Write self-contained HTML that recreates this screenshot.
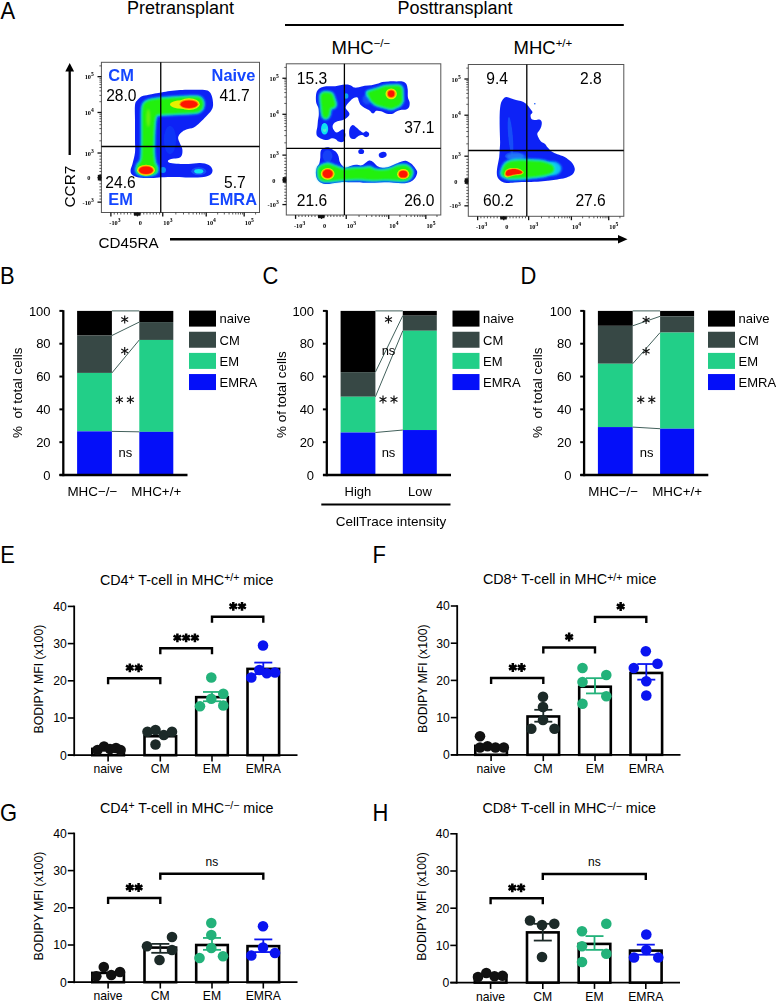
<!DOCTYPE html>
<html><head><meta charset="utf-8"><style>
html,body{margin:0;padding:0;background:#fff;}
svg{display:block;font-family:"Liberation Sans", sans-serif;}
</style></head><body>
<svg width="776" height="1002" viewBox="0 0 776 1002">
<rect width="776" height="1002" fill="#fff"/>
<text x="0" y="0" font-size="23.6" text-anchor="start" font-weight="normal" fill="#000" transform="translate(0.4 18.5) scale(0.93 1)">A</text>
<text x="0" y="0" font-size="23.6" text-anchor="start" font-weight="normal" fill="#000" transform="translate(-0.09999999999999998 284.4) scale(0.93 1)">B</text>
<text x="0" y="0" font-size="23.6" text-anchor="start" font-weight="normal" fill="#000" transform="translate(262.4 284.4) scale(0.93 1)">C</text>
<text x="0" y="0" font-size="23.6" text-anchor="start" font-weight="normal" fill="#000" transform="translate(520.4000000000001 284.4) scale(0.93 1)">D</text>
<text x="0" y="0" font-size="23.6" text-anchor="start" font-weight="normal" fill="#000" transform="translate(0.2 563) scale(0.93 1)">E</text>
<text x="0" y="0" font-size="23.6" text-anchor="start" font-weight="normal" fill="#000" transform="translate(372.4 563) scale(0.93 1)">F</text>
<text x="0" y="0" font-size="23.6" text-anchor="start" font-weight="normal" fill="#000" transform="translate(0.0 821) scale(0.93 1)">G</text>
<text x="0" y="0" font-size="23.6" text-anchor="start" font-weight="normal" fill="#000" transform="translate(372.4 820.5) scale(0.93 1)">H</text>
<text x="127" y="13.8" font-size="18" text-anchor="start" font-weight="normal" fill="#000" >Pretransplant</text>
<text x="397.5" y="13.8" font-size="18" text-anchor="start" font-weight="normal" fill="#000" >Posttransplant</text>
<line x1="285" y1="25" x2="623.8" y2="25" stroke="#000" stroke-width="2" />
<text x="331.5" y="53.5" font-size="18.5" text-anchor="start" font-weight="normal" fill="#000" >MHC<tspan font-size="11.5" dy="-6.1">−/−</tspan></text>
<text x="513.5" y="53.5" font-size="18.5" text-anchor="start" font-weight="normal" fill="#000" >MHC<tspan font-size="11.5" dy="-6.1">+/+</tspan></text>
<defs><filter id="fb" x="-5%" y="-5%" width="110%" height="110%"><feGaussianBlur stdDeviation="0.55"/></filter><filter id="fg" x="-20%" y="-20%" width="140%" height="140%"><feGaussianBlur stdDeviation="1.1"/></filter><filter id="fy" x="-20%" y="-20%" width="140%" height="140%"><feGaussianBlur stdDeviation="0.8"/></filter><filter id="fc" x="-30%" y="-30%" width="160%" height="160%"><feGaussianBlur stdDeviation="0.7"/></filter></defs><g filter="url(#fb)"><path d="M135.00,140.00C135.00,134.58 135.00,125.83 135.00,120.00C135.00,114.17 134.58,108.33 135.00,105.00C135.42,101.67 136.35,101.46 137.50,100.00C138.65,98.54 140.03,97.12 141.90,96.25C143.78,95.38 145.53,95.38 148.75,94.75C151.97,94.12 157.71,93.12 161.25,92.50C164.79,91.88 166.88,91.42 170.00,91.00C173.12,90.58 176.67,90.21 180.00,90.00C183.33,89.79 186.25,89.79 190.00,89.75C193.75,89.71 199.38,89.50 202.50,89.75C205.62,90.00 207.18,90.17 208.75,91.25C210.32,92.33 211.18,93.96 211.90,96.25C212.62,98.54 213.21,102.61 213.10,105.00C212.99,107.39 212.39,108.72 211.25,110.60C210.11,112.47 208.12,114.27 206.25,116.25C204.38,118.23 202.08,120.62 200.00,122.50C197.92,124.38 196.04,126.35 193.75,127.50C191.46,128.65 188.33,128.57 186.25,129.40C184.17,130.23 182.61,131.15 181.25,132.50C179.89,133.85 178.31,135.67 178.10,137.50C177.89,139.33 179.30,141.58 180.00,143.50C180.70,145.42 181.98,147.08 182.30,149.00C182.62,150.92 182.49,153.48 181.90,155.00C181.31,156.52 180.32,157.47 178.75,158.10C177.18,158.72 174.28,158.33 172.50,158.75C170.72,159.17 168.62,159.93 168.10,160.60C167.58,161.27 168.04,162.22 169.40,162.75C170.76,163.28 173.03,163.54 176.25,163.75C179.47,163.96 184.79,164.11 188.75,164.00C192.71,163.89 196.67,162.93 200.00,163.10C203.33,163.27 206.67,163.85 208.75,165.00C210.83,166.15 212.29,168.33 212.50,170.00C212.71,171.67 211.88,173.79 210.00,175.00C208.12,176.21 204.79,176.83 201.25,177.25C197.71,177.67 192.92,177.56 188.75,177.50C184.58,177.44 180.83,176.94 176.25,176.90C171.67,176.86 165.42,177.05 161.25,177.25C157.08,177.45 155.00,178.06 151.25,178.10C147.50,178.14 141.97,178.12 138.75,177.50C135.53,176.88 133.26,175.65 131.90,174.40C130.54,173.15 130.50,171.78 130.60,170.00C130.70,168.22 131.77,166.67 132.50,163.75C133.23,160.83 134.58,156.46 135.00,152.50C135.42,148.54 135.00,145.42 135.00,140.00Z" fill="#0a22f6" /><ellipse cx="170" cy="140" rx="6" ry="14" fill="#1a5cf8" opacity="0.35"/><ellipse cx="163" cy="170" rx="3" ry="3" fill="#10e0f0" opacity="0.6"/><ellipse cx="198.75" cy="171.25" rx="7.5" ry="4" fill="#1a5cf8" opacity="0.8"/><ellipse cx="198.75" cy="171.25" rx="4.5" ry="2.3" fill="#10e0f0" /><path d="M142.20,140.00C142.32,133.54 142.17,125.08 142.20,120.00C142.23,114.92 142.10,112.25 142.40,109.50C142.70,106.75 142.82,105.05 144.00,103.50C145.18,101.95 146.62,101.02 149.50,100.20C152.38,99.38 156.79,99.03 161.25,98.60C165.71,98.17 171.46,97.90 176.25,97.60C181.04,97.30 186.29,96.90 190.00,96.80C193.71,96.70 196.45,96.50 198.50,97.00C200.55,97.50 201.50,98.47 202.30,99.80C203.10,101.13 203.47,103.30 203.30,105.00C203.13,106.70 202.43,108.73 201.30,110.00C200.17,111.27 198.80,112.07 196.50,112.60C194.20,113.13 190.88,113.00 187.50,113.20C184.12,113.40 180.42,113.58 176.25,113.80C172.08,114.02 165.84,114.17 162.50,114.50C159.16,114.83 157.57,113.63 156.20,115.80C154.83,117.97 154.70,123.47 154.30,127.50C153.90,131.53 153.92,135.83 153.80,140.00C153.68,144.17 153.43,148.75 153.60,152.50C153.77,156.25 154.23,160.00 154.80,162.50C155.37,165.00 156.70,165.92 157.00,167.50C157.30,169.08 157.30,170.85 156.60,172.00C155.90,173.15 154.73,173.90 152.80,174.40C150.87,174.90 147.38,175.17 145.00,175.00C142.62,174.83 139.90,174.23 138.50,173.40C137.10,172.57 136.72,171.40 136.60,170.00C136.48,168.60 136.98,166.88 137.80,165.00C138.62,163.12 140.77,162.92 141.50,158.75C142.23,154.58 142.08,146.46 142.20,140.00Z" fill="#10e0f0" stroke="#10e0f0" stroke-width="3.00" stroke-linejoin="round" filter="url(#fy)"/><path d="M142.20,140.00C142.32,133.54 142.17,125.08 142.20,120.00C142.23,114.92 142.10,112.25 142.40,109.50C142.70,106.75 142.82,105.05 144.00,103.50C145.18,101.95 146.62,101.02 149.50,100.20C152.38,99.38 156.79,99.03 161.25,98.60C165.71,98.17 171.46,97.90 176.25,97.60C181.04,97.30 186.29,96.90 190.00,96.80C193.71,96.70 196.45,96.50 198.50,97.00C200.55,97.50 201.50,98.47 202.30,99.80C203.10,101.13 203.47,103.30 203.30,105.00C203.13,106.70 202.43,108.73 201.30,110.00C200.17,111.27 198.80,112.07 196.50,112.60C194.20,113.13 190.88,113.00 187.50,113.20C184.12,113.40 180.42,113.58 176.25,113.80C172.08,114.02 165.84,114.17 162.50,114.50C159.16,114.83 157.57,113.63 156.20,115.80C154.83,117.97 154.70,123.47 154.30,127.50C153.90,131.53 153.92,135.83 153.80,140.00C153.68,144.17 153.43,148.75 153.60,152.50C153.77,156.25 154.23,160.00 154.80,162.50C155.37,165.00 156.70,165.92 157.00,167.50C157.30,169.08 157.30,170.85 156.60,172.00C155.90,173.15 154.73,173.90 152.80,174.40C150.87,174.90 147.38,175.17 145.00,175.00C142.62,174.83 139.90,174.23 138.50,173.40C137.10,172.57 136.72,171.40 136.60,170.00C136.48,168.60 136.98,166.88 137.80,165.00C138.62,163.12 140.77,162.92 141.50,158.75C142.23,154.58 142.08,146.46 142.20,140.00Z" fill="#22f010" filter="url(#fg)"/><ellipse cx="148.3" cy="118" rx="2.0" ry="9" fill="#e8f000" opacity="0.35" filter="url(#fg)"/><ellipse cx="182" cy="104.5" rx="12" ry="4.2" fill="#e8f000" /><g filter="url(#fc)"><ellipse cx="189" cy="104.2" rx="10.78" ry="5.84" fill="#e8f000" /><ellipse cx="189" cy="104.2" rx="9.58" ry="4.76" fill="#ff8c00" /><ellipse cx="189" cy="104.2" rx="8.5" ry="3.8" fill="#ff1800" /></g><g filter="url(#fc)"><ellipse cx="146.0" cy="170.2" rx="8.9" ry="5.5" fill="#e8f000" /><ellipse cx="146.0" cy="170.2" rx="7.9" ry="4.6" fill="#ff8c00" /><ellipse cx="146.0" cy="170.2" rx="7.0" ry="3.8" fill="#ff1800" /></g><path d="M315.90,96.75C315.97,94.87 316.18,93.09 316.75,91.70C317.32,90.31 318.18,89.23 319.30,88.40C320.43,87.57 321.83,87.05 323.50,86.70C325.17,86.35 327.35,86.37 329.30,86.30C331.25,86.23 333.38,86.48 335.20,86.30C337.02,86.12 338.53,85.48 340.20,85.20C341.87,84.92 343.52,84.60 345.20,84.60C346.88,84.60 348.77,84.70 350.30,85.20C351.83,85.70 352.97,87.27 354.40,87.60C355.83,87.93 357.18,87.52 358.90,87.20C360.62,86.88 362.62,86.03 364.70,85.70C366.78,85.37 369.32,85.52 371.40,85.20C373.48,84.88 375.42,84.35 377.20,83.80C378.98,83.25 380.17,82.30 382.10,81.90C384.03,81.50 386.40,81.48 388.80,81.40C391.20,81.32 394.25,81.40 396.50,81.40C398.75,81.40 400.68,81.00 402.30,81.40C403.92,81.80 405.30,82.43 406.20,83.80C407.10,85.17 407.42,87.35 407.70,89.60C407.98,91.85 407.58,95.20 407.90,97.30C408.22,99.40 409.40,100.58 409.60,102.20C409.80,103.82 409.67,105.80 409.10,107.00C408.53,108.20 407.65,108.92 406.20,109.40C404.75,109.88 402.13,109.50 400.40,109.90C398.67,110.30 397.07,111.17 395.80,111.80C394.53,112.43 394.28,113.38 392.80,113.70C391.32,114.02 388.85,114.10 386.90,113.70C384.95,113.30 382.87,111.78 381.10,111.30C379.33,110.82 377.43,110.55 376.30,110.80C375.17,111.05 374.95,112.38 374.30,112.80C373.65,113.22 373.20,113.70 372.40,113.30C371.60,112.90 370.78,111.28 369.50,110.40C368.22,109.52 366.15,108.88 364.70,108.00C363.25,107.12 361.77,106.23 360.80,105.10C359.83,103.97 359.45,102.47 358.90,101.20C358.35,99.93 358.38,98.03 357.50,97.50C356.62,96.97 354.95,97.28 353.60,98.00C352.25,98.72 350.73,100.20 349.40,101.80C348.07,103.40 345.60,105.65 345.60,107.60C345.60,109.55 349.05,111.95 349.40,113.50C349.75,115.05 348.68,115.85 347.70,116.90C346.72,117.95 345.03,119.12 343.50,119.80C341.97,120.48 340.00,120.52 338.50,121.00C337.00,121.48 335.48,121.87 334.50,122.70C333.52,123.53 332.77,124.87 332.60,126.00C332.43,127.13 332.82,128.40 333.50,129.50C334.18,130.60 335.52,132.43 336.70,132.60C337.88,132.77 339.47,131.02 340.60,130.50C341.73,129.98 342.70,128.87 343.50,129.50C344.30,130.13 345.25,132.53 345.40,134.30C345.55,136.07 344.88,138.80 344.40,140.10C343.92,141.40 343.47,141.85 342.50,142.10C341.53,142.35 339.73,142.08 338.60,141.60C337.47,141.12 336.82,139.77 335.70,139.20C334.58,138.63 333.33,138.05 331.90,138.20C330.47,138.35 328.87,140.02 327.10,140.10C325.33,140.18 322.92,139.33 321.30,138.70C319.68,138.07 318.22,137.35 317.40,136.30C316.58,135.25 316.40,134.02 316.40,132.40C316.40,130.78 317.15,128.53 317.40,126.60C317.65,124.67 317.67,122.73 317.90,120.80C318.13,118.87 318.72,117.13 318.80,115.00C318.88,112.87 318.82,110.00 318.40,108.00C317.98,106.00 316.72,104.88 316.30,103.00C315.88,101.12 315.82,98.63 315.90,96.75Z" fill="#0a22f6" /><path d="M349.70,128.40C350.27,126.87 351.48,125.17 352.60,125.00C353.72,124.83 355.12,126.43 356.40,127.40C357.68,128.37 359.17,129.92 360.30,130.80C361.43,131.68 362.23,132.62 363.20,132.70C364.17,132.78 365.13,131.22 366.10,131.30C367.07,131.38 368.60,132.40 369.00,133.20C369.40,134.00 369.07,135.45 368.50,136.10C367.93,136.75 366.65,137.27 365.60,137.10C364.55,136.93 363.40,135.27 362.20,135.10C361.00,134.93 359.68,135.45 358.40,136.10C357.12,136.75 355.80,138.68 354.50,139.00C353.20,139.32 351.48,138.80 350.60,138.00C349.72,137.20 349.35,135.80 349.20,134.20C349.05,132.60 349.13,129.93 349.70,128.40Z" fill="#0a22f6" /><path d="M320.80,150.80C321.45,149.18 322.83,148.47 324.20,147.90C325.57,147.33 327.55,147.08 329.00,147.40C330.45,147.72 331.62,148.92 332.90,149.80C334.18,150.68 335.75,151.57 336.70,152.70C337.65,153.83 338.12,155.15 338.60,156.60C339.08,158.05 338.95,159.87 339.60,161.40C340.25,162.93 341.53,164.75 342.50,165.80C343.47,166.85 343.95,167.70 345.40,167.70C346.85,167.70 349.43,166.28 351.20,165.80C352.97,165.32 354.23,164.88 356.00,164.80C357.77,164.72 360.02,165.78 361.80,165.30C363.58,164.82 365.37,162.70 366.70,161.90C368.03,161.10 368.63,160.42 369.80,160.50C370.97,160.58 372.40,161.43 373.70,162.40C375.00,163.37 376.15,165.42 377.60,166.30C379.05,167.18 380.47,167.63 382.40,167.70C384.33,167.77 386.95,167.35 389.20,166.70C391.45,166.05 393.82,164.68 395.90,163.80C397.98,162.92 399.93,161.88 401.70,161.40C403.47,160.92 404.88,160.50 406.50,160.90C408.12,161.30 409.95,162.58 411.40,163.80C412.85,165.02 414.23,166.82 415.20,168.20C416.17,169.58 417.12,170.65 417.20,172.10C417.28,173.55 416.52,175.47 415.70,176.90C414.88,178.33 413.67,179.73 412.30,180.70C410.93,181.67 409.27,182.28 407.50,182.70C405.73,183.12 403.95,183.20 401.70,183.20C399.45,183.20 396.90,182.87 394.00,182.70C391.10,182.53 387.52,182.20 384.30,182.20C381.08,182.20 377.92,182.62 374.70,182.70C371.48,182.78 367.78,182.78 365.00,182.70C362.22,182.62 360.78,182.28 358.00,182.20C355.22,182.12 351.20,182.20 348.30,182.20C345.40,182.20 343.17,182.03 340.60,182.20C338.03,182.37 335.00,182.88 332.90,183.20C330.80,183.52 329.78,184.10 328.00,184.10C326.22,184.10 323.80,183.77 322.20,183.20C320.60,182.63 319.37,181.75 318.40,180.70C317.43,179.65 316.82,178.33 316.40,176.90C315.98,175.47 315.82,173.72 315.90,172.10C315.98,170.48 316.33,168.65 316.90,167.20C317.47,165.75 318.73,165.00 319.30,163.40C319.87,161.80 320.05,159.70 320.30,157.60C320.55,155.50 320.15,152.42 320.80,150.80Z" fill="#0a22f6" /><ellipse cx="361.2" cy="151.5" rx="2.9" ry="2.6" fill="#0a22f6" /><ellipse cx="382.7" cy="154.9" rx="4" ry="3" fill="#0a22f6" transform="rotate(-15 382.7 154.9)" /><ellipse cx="346.2" cy="96" rx="2.2" ry="2.8" fill="#10e0f0" opacity="0.7"/><ellipse cx="324.6" cy="128.8" rx="3.6" ry="5.8" fill="#10e0f0" /><ellipse cx="324.6" cy="128.8" rx="1.8" ry="3.2" fill="#60f0c0" opacity="0.8"/><ellipse cx="324.3" cy="126.5" rx="2.2" ry="3" fill="#10e0f0" /><ellipse cx="367" cy="99.5" rx="4.5" ry="5" fill="#1a5cf8" opacity="0.8" filter="url(#fg)"/><ellipse cx="369.5" cy="94" rx="3.5" ry="3.5" fill="#10e0f0" opacity="0.8" filter="url(#fg)"/><ellipse cx="327.5" cy="156" rx="5" ry="6" fill="#1a5cf8" opacity="0.5"/><path d="M320.80,95.00C321.20,93.97 321.87,93.23 323.00,92.80C324.13,92.37 326.13,92.27 327.60,92.40C329.07,92.53 330.73,92.60 331.80,93.60C332.87,94.60 333.37,96.57 334.00,98.40C334.63,100.23 335.60,103.10 335.60,104.60C335.60,106.10 334.83,106.77 334.00,107.40C333.17,108.03 331.37,107.23 330.60,108.40C329.83,109.57 329.87,112.90 329.40,114.40C328.93,115.90 328.53,116.77 327.80,117.40C327.07,118.03 325.83,118.40 325.00,118.20C324.17,118.00 323.33,117.33 322.80,116.20C322.27,115.07 322.07,113.25 321.80,111.40C321.53,109.55 321.40,107.17 321.20,105.10C321.00,103.03 320.67,100.68 320.60,99.00C320.53,97.32 320.40,96.03 320.80,95.00Z" fill="#10e0f0" stroke="#10e0f0" stroke-width="3.00" stroke-linejoin="round" filter="url(#fy)"/><path d="M320.80,95.00C321.20,93.97 321.87,93.23 323.00,92.80C324.13,92.37 326.13,92.27 327.60,92.40C329.07,92.53 330.73,92.60 331.80,93.60C332.87,94.60 333.37,96.57 334.00,98.40C334.63,100.23 335.60,103.10 335.60,104.60C335.60,106.10 334.83,106.77 334.00,107.40C333.17,108.03 331.37,107.23 330.60,108.40C329.83,109.57 329.87,112.90 329.40,114.40C328.93,115.90 328.53,116.77 327.80,117.40C327.07,118.03 325.83,118.40 325.00,118.20C324.17,118.00 323.33,117.33 322.80,116.20C322.27,115.07 322.07,113.25 321.80,111.40C321.53,109.55 321.40,107.17 321.20,105.10C321.00,103.03 320.67,100.68 320.60,99.00C320.53,97.32 320.40,96.03 320.80,95.00Z" fill="#22f010" filter="url(#fg)"/><path d="M367.50,92.20C368.20,91.57 370.17,91.03 372.00,90.40C373.83,89.77 376.50,89.07 378.50,88.40C380.50,87.73 381.80,86.83 384.00,86.40C386.20,85.97 389.20,85.90 391.70,85.80C394.20,85.70 397.28,85.35 399.00,85.80C400.72,86.25 401.43,86.90 402.00,88.50C402.57,90.10 402.33,93.32 402.40,95.40C402.47,97.48 402.83,99.37 402.40,101.00C401.97,102.63 400.83,104.20 399.80,105.20C398.77,106.20 397.55,106.40 396.20,107.00C394.85,107.60 393.25,108.65 391.70,108.80C390.15,108.95 388.67,108.33 386.90,107.90C385.13,107.47 383.00,106.78 381.10,106.20C379.20,105.62 377.10,105.27 375.50,104.40C373.90,103.53 372.58,102.27 371.50,101.00C370.42,99.73 369.62,97.93 369.00,96.80C368.38,95.67 368.05,94.97 367.80,94.20C367.55,93.43 366.80,92.83 367.50,92.20Z" fill="#10e0f0" stroke="#10e0f0" stroke-width="3.00" stroke-linejoin="round" filter="url(#fy)"/><path d="M367.50,92.20C368.20,91.57 370.17,91.03 372.00,90.40C373.83,89.77 376.50,89.07 378.50,88.40C380.50,87.73 381.80,86.83 384.00,86.40C386.20,85.97 389.20,85.90 391.70,85.80C394.20,85.70 397.28,85.35 399.00,85.80C400.72,86.25 401.43,86.90 402.00,88.50C402.57,90.10 402.33,93.32 402.40,95.40C402.47,97.48 402.83,99.37 402.40,101.00C401.97,102.63 400.83,104.20 399.80,105.20C398.77,106.20 397.55,106.40 396.20,107.00C394.85,107.60 393.25,108.65 391.70,108.80C390.15,108.95 388.67,108.33 386.90,107.90C385.13,107.47 383.00,106.78 381.10,106.20C379.20,105.62 377.10,105.27 375.50,104.40C373.90,103.53 372.58,102.27 371.50,101.00C370.42,99.73 369.62,97.93 369.00,96.80C368.38,95.67 368.05,94.97 367.80,94.20C367.55,93.43 366.80,92.83 367.50,92.20Z" fill="#22f010" filter="url(#fg)"/><path d="M318.40,168.20C319.12,166.92 320.60,166.03 322.20,165.30C323.80,164.57 326.07,163.72 328.00,163.80C329.93,163.88 331.70,165.07 333.80,165.80C335.90,166.53 338.67,167.63 340.60,168.20C342.53,168.77 343.15,169.20 345.40,169.20C347.65,169.20 351.20,168.37 354.10,168.20C357.00,168.03 360.22,168.37 362.80,168.20C365.38,168.03 367.62,166.97 369.60,167.20C371.58,167.43 372.25,169.12 374.70,169.60C377.15,170.08 381.40,170.33 384.30,170.10C387.20,169.87 389.83,168.92 392.10,168.20C394.37,167.48 395.65,166.28 397.90,165.80C400.15,165.32 403.52,164.90 405.60,165.30C407.68,165.70 409.28,167.07 410.40,168.20C411.52,169.33 412.22,170.65 412.30,172.10C412.38,173.55 411.70,175.62 410.90,176.90C410.10,178.18 409.03,179.17 407.50,179.80C405.97,180.43 403.95,180.62 401.70,180.70C399.45,180.78 396.90,180.45 394.00,180.30C391.10,180.15 387.52,179.80 384.30,179.80C381.08,179.80 377.92,180.30 374.70,180.30C371.48,180.30 367.78,179.97 365.00,179.80C362.22,179.63 361.27,179.30 358.00,179.30C354.73,179.30 348.63,179.63 345.40,179.80C342.17,179.97 341.33,180.07 338.60,180.30C335.87,180.53 331.73,181.13 329.00,181.20C326.27,181.27 323.90,181.25 322.20,180.70C320.50,180.15 319.52,179.18 318.80,177.90C318.08,176.62 317.97,174.62 317.90,173.00C317.83,171.38 317.68,169.48 318.40,168.20Z" fill="#10e0f0" stroke="#10e0f0" stroke-width="3.00" stroke-linejoin="round" filter="url(#fy)"/><path d="M318.40,168.20C319.12,166.92 320.60,166.03 322.20,165.30C323.80,164.57 326.07,163.72 328.00,163.80C329.93,163.88 331.70,165.07 333.80,165.80C335.90,166.53 338.67,167.63 340.60,168.20C342.53,168.77 343.15,169.20 345.40,169.20C347.65,169.20 351.20,168.37 354.10,168.20C357.00,168.03 360.22,168.37 362.80,168.20C365.38,168.03 367.62,166.97 369.60,167.20C371.58,167.43 372.25,169.12 374.70,169.60C377.15,170.08 381.40,170.33 384.30,170.10C387.20,169.87 389.83,168.92 392.10,168.20C394.37,167.48 395.65,166.28 397.90,165.80C400.15,165.32 403.52,164.90 405.60,165.30C407.68,165.70 409.28,167.07 410.40,168.20C411.52,169.33 412.22,170.65 412.30,172.10C412.38,173.55 411.70,175.62 410.90,176.90C410.10,178.18 409.03,179.17 407.50,179.80C405.97,180.43 403.95,180.62 401.70,180.70C399.45,180.78 396.90,180.45 394.00,180.30C391.10,180.15 387.52,179.80 384.30,179.80C381.08,179.80 377.92,180.30 374.70,180.30C371.48,180.30 367.78,179.97 365.00,179.80C362.22,179.63 361.27,179.30 358.00,179.30C354.73,179.30 348.63,179.63 345.40,179.80C342.17,179.97 341.33,180.07 338.60,180.30C335.87,180.53 331.73,181.13 329.00,181.20C326.27,181.27 323.90,181.25 322.20,180.70C320.50,180.15 319.52,179.18 318.80,177.90C318.08,176.62 317.97,174.62 317.90,173.00C317.83,171.38 317.68,169.48 318.40,168.20Z" fill="#22f010" filter="url(#fg)"/><g filter="url(#fc)"><ellipse cx="391.2" cy="93.8" rx="5.67" ry="5.41" fill="#e8f000" /><ellipse cx="391.2" cy="93.8" rx="4.37" ry="4.24" fill="#ff8c00" /><ellipse cx="391.2" cy="93.8" rx="3.2" ry="3.2" fill="#ff1800" /></g><g filter="url(#fc)"><ellipse cx="327.7" cy="173.8" rx="6.9" ry="5.9" fill="#e8f000" /><ellipse cx="327.7" cy="173.8" rx="5.9" ry="5.0" fill="#ff8c00" /><ellipse cx="327.7" cy="173.8" rx="5.0" ry="4.2" fill="#ff1800" /></g><g filter="url(#fc)"><ellipse cx="403.2" cy="174.2" rx="6.1" ry="5.1" fill="#e8f000" /><ellipse cx="403.2" cy="174.2" rx="5.1000000000000005" ry="4.2" fill="#ff8c00" /><ellipse cx="403.2" cy="174.2" rx="4.2" ry="3.4" fill="#ff1800" /></g><path d="M500.10,142.00C500.10,138.50 499.77,133.23 499.70,128.60C499.63,123.97 499.55,118.22 499.70,114.20C499.85,110.18 500.12,106.92 500.60,104.50C501.08,102.08 501.78,100.92 502.60,99.70C503.42,98.48 504.38,97.53 505.50,97.20C506.62,96.87 507.70,97.28 509.30,97.70C510.90,98.12 513.17,99.13 515.10,99.70C517.03,100.27 519.13,100.47 520.90,101.10C522.67,101.73 524.42,102.62 525.70,103.50C526.98,104.38 527.78,105.43 528.60,106.40C529.42,107.37 529.95,108.33 530.60,109.30C531.25,110.27 532.50,111.23 532.50,112.20C532.50,113.17 530.77,113.97 530.60,115.10C530.43,116.23 530.70,118.18 531.50,119.00C532.30,119.82 534.10,119.92 535.40,120.00C536.70,120.08 538.25,119.18 539.30,119.50C540.35,119.82 541.38,120.70 541.70,121.90C542.02,123.10 541.60,125.25 541.20,126.70C540.80,128.15 539.95,129.47 539.30,130.60C538.65,131.73 537.47,132.38 537.30,133.50C537.13,134.62 537.68,135.97 538.30,137.30C538.92,138.63 539.88,140.38 541.00,141.50C542.12,142.62 543.88,142.98 545.00,144.00C546.12,145.02 546.60,146.37 547.70,147.60C548.80,148.83 549.98,150.28 551.60,151.40C553.22,152.52 555.30,153.42 557.40,154.30C559.50,155.18 562.27,155.73 564.20,156.70C566.13,157.67 567.55,158.88 569.00,160.10C570.45,161.32 571.93,162.55 572.90,164.00C573.87,165.45 574.65,167.35 574.80,168.80C574.95,170.25 574.45,171.57 573.80,172.70C573.15,173.83 572.35,174.72 570.90,175.60C569.45,176.48 567.35,177.37 565.10,178.00C562.85,178.63 559.97,179.00 557.40,179.40C554.83,179.80 552.60,180.07 549.70,180.40C546.80,180.73 543.52,181.13 540.00,181.40C536.48,181.67 531.62,181.90 528.60,182.00C525.58,182.10 524.30,181.93 521.90,182.00C519.50,182.07 516.78,182.25 514.20,182.40C511.62,182.55 508.50,183.05 506.40,182.90C504.30,182.75 503.05,182.38 501.60,181.50C500.15,180.62 498.50,179.22 497.70,177.60C496.90,175.98 496.80,173.88 496.80,171.80C496.80,169.72 497.30,167.52 497.70,165.10C498.10,162.68 498.87,159.88 499.20,157.30C499.53,154.72 499.55,152.15 499.70,149.60C499.85,147.05 500.10,145.50 500.10,142.00Z" fill="#0a22f6" /><ellipse cx="510.5" cy="136" rx="2.3" ry="19" fill="#1a5cf8" transform="rotate(-5 510.5 136)" opacity="0.75"/><ellipse cx="514" cy="156" rx="9" ry="4" fill="#1a5cf8" opacity="0.6"/><ellipse cx="534.8" cy="103.7" rx="0.8" ry="0.8" fill="#1a5cf8" /><ellipse cx="553" cy="168.6" rx="8.5" ry="7.0" fill="#10e0f0" filter="url(#fg)" opacity="0.85"/><ellipse cx="516" cy="156.5" rx="10" ry="3.5" fill="#2a8cf8" filter="url(#fg)" opacity="0.7"/><path d="M502.20,170.40C502.63,169.02 503.23,166.77 504.20,165.40C505.17,164.03 506.18,163.00 508.00,162.20C509.82,161.40 511.98,160.90 515.10,160.60C518.22,160.30 522.83,160.33 526.70,160.40C530.57,160.47 535.08,160.67 538.30,161.00C541.52,161.33 543.72,161.73 546.00,162.40C548.28,163.07 550.63,163.93 552.00,165.00C553.37,166.07 554.12,167.57 554.20,168.80C554.28,170.03 553.87,171.37 552.50,172.40C551.13,173.43 548.37,174.33 546.00,175.00C543.63,175.67 541.20,176.00 538.30,176.40C535.40,176.80 531.82,177.08 528.60,177.40C525.38,177.72 522.22,178.13 519.00,178.30C515.78,178.47 511.83,178.68 509.30,178.40C506.77,178.12 505.08,177.38 503.80,176.60C502.52,175.82 501.87,174.73 501.60,173.70C501.33,172.67 501.77,171.78 502.20,170.40Z" fill="#10e0f0" stroke="#10e0f0" stroke-width="3.50" stroke-linejoin="round" filter="url(#fy)"/><path d="M502.20,170.40C502.63,169.02 503.23,166.77 504.20,165.40C505.17,164.03 506.18,163.00 508.00,162.20C509.82,161.40 511.98,160.90 515.10,160.60C518.22,160.30 522.83,160.33 526.70,160.40C530.57,160.47 535.08,160.67 538.30,161.00C541.52,161.33 543.72,161.73 546.00,162.40C548.28,163.07 550.63,163.93 552.00,165.00C553.37,166.07 554.12,167.57 554.20,168.80C554.28,170.03 553.87,171.37 552.50,172.40C551.13,173.43 548.37,174.33 546.00,175.00C543.63,175.67 541.20,176.00 538.30,176.40C535.40,176.80 531.82,177.08 528.60,177.40C525.38,177.72 522.22,178.13 519.00,178.30C515.78,178.47 511.83,178.68 509.30,178.40C506.77,178.12 505.08,177.38 503.80,176.60C502.52,175.82 501.87,174.73 501.60,173.70C501.33,172.67 501.77,171.78 502.20,170.40Z" fill="#22f010" filter="url(#fg)"/><g filter="url(#fc)"><path d="M504.60,172.53C504.89,171.49 505.30,170.52 506.34,169.77C507.39,169.02 508.99,168.27 510.87,168.03C512.74,167.79 515.74,167.91 517.60,168.32C519.45,168.73 520.98,169.79 522.00,170.50C523.03,171.20 523.92,171.82 523.74,172.53C523.57,173.23 522.55,174.19 520.96,174.70C519.37,175.21 516.47,175.11 514.23,175.57C511.99,176.03 509.11,177.38 507.50,177.45C505.90,177.53 505.09,176.83 504.60,176.00C504.12,175.18 504.31,173.56 504.60,172.53Z" fill="#e8f000" opacity="0.8"/><path d="M505.33,172.40C505.60,171.54 505.97,170.74 506.94,170.12C507.90,169.50 509.38,168.88 511.11,168.68C512.84,168.48 515.61,168.58 517.32,168.92C519.03,169.26 520.44,170.14 521.38,170.72C522.33,171.30 523.15,171.82 522.99,172.40C522.83,172.98 521.88,173.78 520.42,174.20C518.96,174.62 516.28,174.54 514.21,174.92C512.15,175.30 509.49,176.42 508.01,176.48C506.53,176.54 505.78,175.96 505.33,175.28C504.89,174.60 505.07,173.26 505.33,172.40Z" fill="#ff8c00" /><path d="M506.06,172.30C506.31,171.58 506.65,170.92 507.53,170.40C508.41,169.88 509.77,169.37 511.35,169.20C512.94,169.03 515.47,169.12 517.04,169.40C518.61,169.68 519.90,170.42 520.76,170.90C521.63,171.38 522.38,171.82 522.23,172.30C522.09,172.78 521.22,173.45 519.88,173.80C518.54,174.15 516.09,174.08 514.20,174.40C512.30,174.72 509.87,175.65 508.51,175.70C507.16,175.75 506.47,175.27 506.06,174.70C505.65,174.13 505.82,173.02 506.06,172.30Z" fill="#ff1800" /></g></g>
<rect x="101.4" y="62.3" width="158.10" height="150.20" fill="none" stroke="#555" stroke-width="1"/>
<line x1="160.75" y1="62.3" x2="160.75" y2="212.5" stroke="#000" stroke-width="1.3" />
<line x1="101.4" y1="146.5" x2="259.5" y2="146.5" stroke="#000" stroke-width="1.3" />
<line x1="97.5" y1="76.65912" x2="101.4" y2="76.65912" stroke="#111" stroke-width="1.3" />
<text x="93.80000000000001" y="79.25912" font-size="6.3" text-anchor="end" font-weight="bold" fill="#000" font-family="Liberation Serif, serif">10<tspan font-size="5.6" dy="-2.9">5</tspan></text>
<line x1="97.5" y1="112.4668" x2="101.4" y2="112.4668" stroke="#111" stroke-width="1.3" />
<text x="93.80000000000001" y="115.0668" font-size="6.3" text-anchor="end" font-weight="bold" fill="#000" font-family="Liberation Serif, serif">10<tspan font-size="5.6" dy="-2.9">4</tspan></text>
<line x1="97.5" y1="153.0208" x2="101.4" y2="153.0208" stroke="#111" stroke-width="1.3" />
<text x="93.80000000000001" y="155.6208" font-size="6.3" text-anchor="end" font-weight="bold" fill="#000" font-family="Liberation Serif, serif">10<tspan font-size="5.6" dy="-2.9">3</tspan></text>
<line x1="97.5" y1="177.65359999999998" x2="101.4" y2="177.65359999999998" stroke="#111" stroke-width="1.3" />
<text x="90.4" y="180.25359999999998" font-size="6.3" text-anchor="end" font-weight="bold" fill="#000" font-family="Liberation Serif, serif">0</text>
<line x1="97.5" y1="202.13619999999997" x2="101.4" y2="202.13619999999997" stroke="#111" stroke-width="1.3" />
<text x="93.80000000000001" y="204.73619999999997" font-size="6.3" text-anchor="end" font-weight="bold" fill="#000" font-family="Liberation Serif, serif">‑10<tspan font-size="5.6" dy="-2.9">3</tspan></text>
<line x1="99.4" y1="101.68761424486277" x2="101.4" y2="101.68761424486277" stroke="#333" stroke-width="0.8" />
<line x1="99.4" y1="95.38219478979984" x2="101.4" y2="95.38219478979984" stroke="#333" stroke-width="0.8" />
<line x1="99.4" y1="90.90842848972555" x2="101.4" y2="90.90842848972555" stroke="#333" stroke-width="0.8" />
<line x1="99.4" y1="87.43830575513722" x2="101.4" y2="87.43830575513722" stroke="#333" stroke-width="0.8" />
<line x1="99.4" y1="84.60300903466262" x2="101.4" y2="84.60300903466262" stroke="#333" stroke-width="0.8" />
<line x1="99.4" y1="82.2057998145423" x2="101.4" y2="82.2057998145423" stroke="#333" stroke-width="0.8" />
<line x1="99.4" y1="80.12924273458832" x2="101.4" y2="80.12924273458832" stroke="#333" stroke-width="0.8" />
<line x1="99.4" y1="78.29758957959967" x2="101.4" y2="78.29758957959967" stroke="#333" stroke-width="0.8" />
<line x1="99.4" y1="140.81282955584288" x2="101.4" y2="140.81282955584288" stroke="#333" stroke-width="0.8" />
<line x1="99.4" y1="133.67162463609878" x2="101.4" y2="133.67162463609878" stroke="#333" stroke-width="0.8" />
<line x1="99.4" y1="128.6048591116858" x2="101.4" y2="128.6048591116858" stroke="#333" stroke-width="0.8" />
<line x1="99.4" y1="124.67477044415708" x2="101.4" y2="124.67477044415708" stroke="#333" stroke-width="0.8" />
<line x1="99.4" y1="121.46365419194171" x2="101.4" y2="121.46365419194171" stroke="#333" stroke-width="0.8" />
<line x1="99.4" y1="118.74869408526183" x2="101.4" y2="118.74869408526183" stroke="#333" stroke-width="0.8" />
<line x1="99.4" y1="116.39688866752871" x2="101.4" y2="116.39688866752871" stroke="#333" stroke-width="0.8" />
<line x1="99.4" y1="114.32244927219762" x2="101.4" y2="114.32244927219762" stroke="#333" stroke-width="0.8" />
<line x1="99.4" y1="65.87993424486277" x2="101.4" y2="65.87993424486277" stroke="#333" stroke-width="0.8" />
<line x1="99.4" y1="156.0999" x2="101.4" y2="156.0999" stroke="#333" stroke-width="0.8" />
<line x1="99.4" y1="180.713925" x2="101.4" y2="180.713925" stroke="#333" stroke-width="0.8" />
<line x1="99.4" y1="159.17899999999997" x2="101.4" y2="159.17899999999997" stroke="#333" stroke-width="0.8" />
<line x1="99.4" y1="183.77425" x2="101.4" y2="183.77425" stroke="#333" stroke-width="0.8" />
<line x1="99.4" y1="162.25809999999998" x2="101.4" y2="162.25809999999998" stroke="#333" stroke-width="0.8" />
<line x1="99.4" y1="186.83457499999997" x2="101.4" y2="186.83457499999997" stroke="#333" stroke-width="0.8" />
<line x1="99.4" y1="165.3372" x2="101.4" y2="165.3372" stroke="#333" stroke-width="0.8" />
<line x1="99.4" y1="189.8949" x2="101.4" y2="189.8949" stroke="#333" stroke-width="0.8" />
<line x1="99.4" y1="168.41629999999998" x2="101.4" y2="168.41629999999998" stroke="#333" stroke-width="0.8" />
<line x1="99.4" y1="192.95522499999998" x2="101.4" y2="192.95522499999998" stroke="#333" stroke-width="0.8" />
<line x1="99.4" y1="171.4954" x2="101.4" y2="171.4954" stroke="#333" stroke-width="0.8" />
<line x1="99.4" y1="196.01554999999996" x2="101.4" y2="196.01554999999996" stroke="#333" stroke-width="0.8" />
<line x1="99.4" y1="174.5745" x2="101.4" y2="174.5745" stroke="#333" stroke-width="0.8" />
<line x1="99.4" y1="199.075875" x2="101.4" y2="199.075875" stroke="#333" stroke-width="0.8" />
<rect x="97.80" y="174.85" width="3.60" height="5.60" fill="#111" />
<line x1="110.88600000000001" y1="212.5" x2="110.88600000000001" y2="216.4" stroke="#111" stroke-width="1.3" />
<text x="109.28600000000002" y="225.1" font-size="6.3" text-anchor="start" font-weight="bold" fill="#000" font-family="Liberation Serif, serif">‑10<tspan font-size="5.6" dy="-2.9">3</tspan></text>
<line x1="137.4468" y1="212.5" x2="137.4468" y2="216.4" stroke="#111" stroke-width="1.3" />
<text x="138.8468" y="225.1" font-size="6.3" text-anchor="start" font-weight="bold" fill="#000" font-family="Liberation Serif, serif">0</text>
<line x1="162.7428" y1="212.5" x2="162.7428" y2="216.4" stroke="#111" stroke-width="1.3" />
<text x="163.34279999999998" y="225.1" font-size="6.3" text-anchor="start" font-weight="bold" fill="#000" font-family="Liberation Serif, serif">10<tspan font-size="5.6" dy="-2.9">3</tspan></text>
<line x1="206.2203" y1="212.5" x2="206.2203" y2="216.4" stroke="#111" stroke-width="1.3" />
<text x="206.8203" y="225.1" font-size="6.3" text-anchor="start" font-weight="bold" fill="#000" font-family="Liberation Serif, serif">10<tspan font-size="5.6" dy="-2.9">4</tspan></text>
<line x1="244.1643" y1="212.5" x2="244.1643" y2="216.4" stroke="#111" stroke-width="1.3" />
<text x="244.7643" y="225.1" font-size="6.3" text-anchor="start" font-weight="bold" fill="#000" font-family="Liberation Serif, serif">10<tspan font-size="5.6" dy="-2.9">5</tspan></text>
<line x1="175.83083163648075" y1="212.5" x2="175.83083163648075" y2="214.5" stroke="#333" stroke-width="0.8" />
<line x1="183.48683935207413" y1="212.5" x2="183.48683935207413" y2="214.5" stroke="#333" stroke-width="0.8" />
<line x1="188.91886327296152" y1="212.5" x2="188.91886327296152" y2="214.5" stroke="#333" stroke-width="0.8" />
<line x1="193.13226836351927" y1="212.5" x2="193.13226836351927" y2="214.5" stroke="#333" stroke-width="0.8" />
<line x1="196.5748709885549" y1="212.5" x2="196.5748709885549" y2="214.5" stroke="#333" stroke-width="0.8" />
<line x1="199.48555003471984" y1="212.5" x2="199.48555003471984" y2="214.5" stroke="#333" stroke-width="0.8" />
<line x1="202.00689490944222" y1="212.5" x2="202.00689490944222" y2="214.5" stroke="#333" stroke-width="0.8" />
<line x1="204.23087870414827" y1="212.5" x2="204.23087870414827" y2="214.5" stroke="#333" stroke-width="0.8" />
<line x1="217.64258215547412" y1="212.5" x2="217.64258215547412" y2="214.5" stroke="#333" stroke-width="0.8" />
<line x1="224.32418888908288" y1="212.5" x2="224.32418888908288" y2="214.5" stroke="#333" stroke-width="0.8" />
<line x1="229.06486431094822" y1="212.5" x2="229.06486431094822" y2="214.5" stroke="#333" stroke-width="0.8" />
<line x1="232.7420178445259" y1="212.5" x2="232.7420178445259" y2="214.5" stroke="#333" stroke-width="0.8" />
<line x1="235.74647104455698" y1="212.5" x2="235.74647104455698" y2="214.5" stroke="#333" stroke-width="0.8" />
<line x1="238.28670003030098" y1="212.5" x2="238.28670003030098" y2="214.5" stroke="#333" stroke-width="0.8" />
<line x1="240.4871464664223" y1="212.5" x2="240.4871464664223" y2="214.5" stroke="#333" stroke-width="0.8" />
<line x1="242.42807777816574" y1="212.5" x2="242.42807777816574" y2="214.5" stroke="#333" stroke-width="0.8" />
<line x1="255.5865821554741" y1="212.5" x2="255.5865821554741" y2="214.5" stroke="#333" stroke-width="0.8" />
<line x1="114.2061" y1="212.5" x2="114.2061" y2="214.5" stroke="#333" stroke-width="0.8" />
<line x1="140.6088" y1="212.5" x2="140.6088" y2="214.5" stroke="#333" stroke-width="0.8" />
<line x1="117.5262" y1="212.5" x2="117.5262" y2="214.5" stroke="#333" stroke-width="0.8" />
<line x1="143.7708" y1="212.5" x2="143.7708" y2="214.5" stroke="#333" stroke-width="0.8" />
<line x1="120.8463" y1="212.5" x2="120.8463" y2="214.5" stroke="#333" stroke-width="0.8" />
<line x1="146.93280000000001" y1="212.5" x2="146.93280000000001" y2="214.5" stroke="#333" stroke-width="0.8" />
<line x1="124.16640000000001" y1="212.5" x2="124.16640000000001" y2="214.5" stroke="#333" stroke-width="0.8" />
<line x1="150.09480000000002" y1="212.5" x2="150.09480000000002" y2="214.5" stroke="#333" stroke-width="0.8" />
<line x1="127.4865" y1="212.5" x2="127.4865" y2="214.5" stroke="#333" stroke-width="0.8" />
<line x1="153.2568" y1="212.5" x2="153.2568" y2="214.5" stroke="#333" stroke-width="0.8" />
<line x1="130.8066" y1="212.5" x2="130.8066" y2="214.5" stroke="#333" stroke-width="0.8" />
<line x1="156.4188" y1="212.5" x2="156.4188" y2="214.5" stroke="#333" stroke-width="0.8" />
<line x1="134.1267" y1="212.5" x2="134.1267" y2="214.5" stroke="#333" stroke-width="0.8" />
<line x1="159.5808" y1="212.5" x2="159.5808" y2="214.5" stroke="#333" stroke-width="0.8" />
<rect x="133.95" y="212.50" width="6.50" height="3.20" fill="#111" />
<rect x="286.3" y="63.8" width="154.50" height="151.20" fill="none" stroke="#555" stroke-width="1"/>
<line x1="344.4" y1="63.8" x2="344.4" y2="215.0" stroke="#000" stroke-width="1.3" />
<line x1="286.3" y1="148.3" x2="440.8" y2="148.3" stroke="#000" stroke-width="1.3" />
<line x1="282.40000000000003" y1="78.25471999999999" x2="286.3" y2="78.25471999999999" stroke="#111" stroke-width="1.3" />
<text x="278.7" y="80.85471999999999" font-size="6.3" text-anchor="end" font-weight="bold" fill="#000" font-family="Liberation Serif, serif">10<tspan font-size="5.6" dy="-2.9">5</tspan></text>
<line x1="282.40000000000003" y1="114.3008" x2="286.3" y2="114.3008" stroke="#111" stroke-width="1.3" />
<text x="278.7" y="116.90079999999999" font-size="6.3" text-anchor="end" font-weight="bold" fill="#000" font-family="Liberation Serif, serif">10<tspan font-size="5.6" dy="-2.9">4</tspan></text>
<line x1="282.40000000000003" y1="155.1248" x2="286.3" y2="155.1248" stroke="#111" stroke-width="1.3" />
<text x="278.7" y="157.7248" font-size="6.3" text-anchor="end" font-weight="bold" fill="#000" font-family="Liberation Serif, serif">10<tspan font-size="5.6" dy="-2.9">3</tspan></text>
<line x1="282.40000000000003" y1="179.92159999999998" x2="286.3" y2="179.92159999999998" stroke="#111" stroke-width="1.3" />
<text x="275.3" y="182.52159999999998" font-size="6.3" text-anchor="end" font-weight="bold" fill="#000" font-family="Liberation Serif, serif">0</text>
<line x1="282.40000000000003" y1="204.5672" x2="286.3" y2="204.5672" stroke="#111" stroke-width="1.3" />
<text x="278.7" y="207.1672" font-size="6.3" text-anchor="end" font-weight="bold" fill="#000" font-family="Liberation Serif, serif">‑10<tspan font-size="5.6" dy="-2.9">3</tspan></text>
<line x1="284.3" y1="103.44984869389648" x2="286.3" y2="103.44984869389648" stroke="#333" stroke-width="0.8" />
<line x1="284.3" y1="97.10244908267467" x2="286.3" y2="97.10244908267467" stroke="#333" stroke-width="0.8" />
<line x1="284.3" y1="92.59889738779296" x2="286.3" y2="92.59889738779296" stroke="#333" stroke-width="0.8" />
<line x1="284.3" y1="89.10567130610352" x2="286.3" y2="89.10567130610352" stroke="#333" stroke-width="0.8" />
<line x1="284.3" y1="86.25149777657116" x2="286.3" y2="86.25149777657116" stroke="#333" stroke-width="0.8" />
<line x1="284.3" y1="83.8383284418029" x2="286.3" y2="83.8383284418029" stroke="#333" stroke-width="0.8" />
<line x1="284.3" y1="81.74794608168943" x2="286.3" y2="81.74794608168943" stroke="#333" stroke-width="0.8" />
<line x1="284.3" y1="79.90409816534934" x2="286.3" y2="79.90409816534934" stroke="#333" stroke-width="0.8" />
<line x1="284.3" y1="142.83555145701362" x2="286.3" y2="142.83555145701362" stroke="#333" stroke-width="0.8" />
<line x1="284.3" y1="135.6468018973245" x2="286.3" y2="135.6468018973245" stroke="#333" stroke-width="0.8" />
<line x1="284.3" y1="130.54630291402725" x2="286.3" y2="130.54630291402725" stroke="#333" stroke-width="0.8" />
<line x1="284.3" y1="126.59004854298635" x2="286.3" y2="126.59004854298635" stroke="#333" stroke-width="0.8" />
<line x1="284.3" y1="123.35755335433812" x2="286.3" y2="123.35755335433812" stroke="#333" stroke-width="0.8" />
<line x1="284.3" y1="120.62451761445797" x2="286.3" y2="120.62451761445797" stroke="#333" stroke-width="0.8" />
<line x1="284.3" y1="118.2570543710409" x2="286.3" y2="118.2570543710409" stroke="#333" stroke-width="0.8" />
<line x1="284.3" y1="116.168803794649" x2="286.3" y2="116.168803794649" stroke="#333" stroke-width="0.8" />
<line x1="284.3" y1="67.40376869389648" x2="286.3" y2="67.40376869389648" stroke="#333" stroke-width="0.8" />
<line x1="284.3" y1="158.2244" x2="286.3" y2="158.2244" stroke="#333" stroke-width="0.8" />
<line x1="284.3" y1="183.0023" x2="286.3" y2="183.0023" stroke="#333" stroke-width="0.8" />
<line x1="284.3" y1="161.324" x2="286.3" y2="161.324" stroke="#333" stroke-width="0.8" />
<line x1="284.3" y1="186.083" x2="286.3" y2="186.083" stroke="#333" stroke-width="0.8" />
<line x1="284.3" y1="164.4236" x2="286.3" y2="164.4236" stroke="#333" stroke-width="0.8" />
<line x1="284.3" y1="189.1637" x2="286.3" y2="189.1637" stroke="#333" stroke-width="0.8" />
<line x1="284.3" y1="167.52319999999997" x2="286.3" y2="167.52319999999997" stroke="#333" stroke-width="0.8" />
<line x1="284.3" y1="192.24439999999998" x2="286.3" y2="192.24439999999998" stroke="#333" stroke-width="0.8" />
<line x1="284.3" y1="170.62279999999998" x2="286.3" y2="170.62279999999998" stroke="#333" stroke-width="0.8" />
<line x1="284.3" y1="195.32510000000002" x2="286.3" y2="195.32510000000002" stroke="#333" stroke-width="0.8" />
<line x1="284.3" y1="173.7224" x2="286.3" y2="173.7224" stroke="#333" stroke-width="0.8" />
<line x1="284.3" y1="198.4058" x2="286.3" y2="198.4058" stroke="#333" stroke-width="0.8" />
<line x1="284.3" y1="176.822" x2="286.3" y2="176.822" stroke="#333" stroke-width="0.8" />
<line x1="284.3" y1="201.48649999999998" x2="286.3" y2="201.48649999999998" stroke="#333" stroke-width="0.8" />
<rect x="282.70" y="177.12" width="3.60" height="5.60" fill="#111" />
<line x1="295.57" y1="215.0" x2="295.57" y2="218.9" stroke="#111" stroke-width="1.3" />
<text x="293.96999999999997" y="227.6" font-size="6.3" text-anchor="start" font-weight="bold" fill="#000" font-family="Liberation Serif, serif">‑10<tspan font-size="5.6" dy="-2.9">3</tspan></text>
<line x1="321.526" y1="215.0" x2="321.526" y2="218.9" stroke="#111" stroke-width="1.3" />
<text x="322.926" y="227.6" font-size="6.3" text-anchor="start" font-weight="bold" fill="#000" font-family="Liberation Serif, serif">0</text>
<line x1="346.24600000000004" y1="215.0" x2="346.24600000000004" y2="218.9" stroke="#111" stroke-width="1.3" />
<text x="346.84600000000006" y="227.6" font-size="6.3" text-anchor="start" font-weight="bold" fill="#000" font-family="Liberation Serif, serif">10<tspan font-size="5.6" dy="-2.9">3</tspan></text>
<line x1="388.73350000000005" y1="215.0" x2="388.73350000000005" y2="218.9" stroke="#111" stroke-width="1.3" />
<text x="389.3335000000001" y="227.6" font-size="6.3" text-anchor="start" font-weight="bold" fill="#000" font-family="Liberation Serif, serif">10<tspan font-size="5.6" dy="-2.9">4</tspan></text>
<line x1="425.8135" y1="215.0" x2="425.8135" y2="218.9" stroke="#111" stroke-width="1.3" />
<text x="426.4135" y="227.6" font-size="6.3" text-anchor="start" font-weight="bold" fill="#000" font-family="Liberation Serif, serif">10<tspan font-size="5.6" dy="-2.9">5</tspan></text>
<line x1="359.0360119407734" y1="215.0" x2="359.0360119407734" y2="217.0" stroke="#333" stroke-width="0.8" />
<line x1="366.5176893099017" y1="215.0" x2="366.5176893099017" y2="217.0" stroke="#333" stroke-width="0.8" />
<line x1="371.8260238815468" y1="215.0" x2="371.8260238815468" y2="217.0" stroke="#333" stroke-width="0.8" />
<line x1="375.94348805922664" y1="215.0" x2="375.94348805922664" y2="217.0" stroke="#333" stroke-width="0.8" />
<line x1="379.3077012506751" y1="215.0" x2="379.3077012506751" y2="217.0" stroke="#333" stroke-width="0.8" />
<line x1="382.1521029751058" y1="215.0" x2="382.1521029751058" y2="217.0" stroke="#333" stroke-width="0.8" />
<line x1="384.6160358223202" y1="215.0" x2="384.6160358223202" y2="217.0" stroke="#333" stroke-width="0.8" />
<line x1="386.7893786198033" y1="215.0" x2="386.7893786198033" y2="217.0" stroke="#333" stroke-width="0.8" />
<line x1="399.89569223922047" y1="215.0" x2="399.89569223922047" y2="217.0" stroke="#333" stroke-width="0.8" />
<line x1="406.42515612500506" y1="215.0" x2="406.42515612500506" y2="217.0" stroke="#333" stroke-width="0.8" />
<line x1="411.0578844784409" y1="215.0" x2="411.0578844784409" y2="217.0" stroke="#333" stroke-width="0.8" />
<line x1="414.65130776077956" y1="215.0" x2="414.65130776077956" y2="217.0" stroke="#333" stroke-width="0.8" />
<line x1="417.5873483642255" y1="215.0" x2="417.5873483642255" y2="217.0" stroke="#333" stroke-width="0.8" />
<line x1="420.06973532372865" y1="215.0" x2="420.06973532372865" y2="217.0" stroke="#333" stroke-width="0.8" />
<line x1="422.2200767176613" y1="215.0" x2="422.2200767176613" y2="217.0" stroke="#333" stroke-width="0.8" />
<line x1="424.1168122500102" y1="215.0" x2="424.1168122500102" y2="217.0" stroke="#333" stroke-width="0.8" />
<line x1="436.97569223922045" y1="215.0" x2="436.97569223922045" y2="217.0" stroke="#333" stroke-width="0.8" />
<line x1="298.8145" y1="215.0" x2="298.8145" y2="217.0" stroke="#333" stroke-width="0.8" />
<line x1="324.616" y1="215.0" x2="324.616" y2="217.0" stroke="#333" stroke-width="0.8" />
<line x1="302.059" y1="215.0" x2="302.059" y2="217.0" stroke="#333" stroke-width="0.8" />
<line x1="327.706" y1="215.0" x2="327.706" y2="217.0" stroke="#333" stroke-width="0.8" />
<line x1="305.3035" y1="215.0" x2="305.3035" y2="217.0" stroke="#333" stroke-width="0.8" />
<line x1="330.796" y1="215.0" x2="330.796" y2="217.0" stroke="#333" stroke-width="0.8" />
<line x1="308.548" y1="215.0" x2="308.548" y2="217.0" stroke="#333" stroke-width="0.8" />
<line x1="333.886" y1="215.0" x2="333.886" y2="217.0" stroke="#333" stroke-width="0.8" />
<line x1="311.7925" y1="215.0" x2="311.7925" y2="217.0" stroke="#333" stroke-width="0.8" />
<line x1="336.976" y1="215.0" x2="336.976" y2="217.0" stroke="#333" stroke-width="0.8" />
<line x1="315.03700000000003" y1="215.0" x2="315.03700000000003" y2="217.0" stroke="#333" stroke-width="0.8" />
<line x1="340.06600000000003" y1="215.0" x2="340.06600000000003" y2="217.0" stroke="#333" stroke-width="0.8" />
<line x1="318.2815" y1="215.0" x2="318.2815" y2="217.0" stroke="#333" stroke-width="0.8" />
<line x1="343.156" y1="215.0" x2="343.156" y2="217.0" stroke="#333" stroke-width="0.8" />
<rect x="318.03" y="215.00" width="6.50" height="3.20" fill="#111" />
<rect x="468.3" y="64.5" width="155.50" height="151.80" fill="none" stroke="#555" stroke-width="1"/>
<line x1="526.8" y1="64.5" x2="526.8" y2="216.3" stroke="#000" stroke-width="1.3" />
<line x1="468.3" y1="150.5" x2="623.8" y2="150.5" stroke="#000" stroke-width="1.3" />
<line x1="464.40000000000003" y1="79.01208" x2="468.3" y2="79.01208" stroke="#111" stroke-width="1.3" />
<text x="460.7" y="81.61207999999999" font-size="6.3" text-anchor="end" font-weight="bold" fill="#000" font-family="Liberation Serif, serif">10<tspan font-size="5.6" dy="-2.9">5</tspan></text>
<line x1="464.40000000000003" y1="115.2012" x2="468.3" y2="115.2012" stroke="#111" stroke-width="1.3" />
<text x="460.7" y="117.8012" font-size="6.3" text-anchor="end" font-weight="bold" fill="#000" font-family="Liberation Serif, serif">10<tspan font-size="5.6" dy="-2.9">4</tspan></text>
<line x1="464.40000000000003" y1="156.18720000000002" x2="468.3" y2="156.18720000000002" stroke="#111" stroke-width="1.3" />
<text x="460.7" y="158.7872" font-size="6.3" text-anchor="end" font-weight="bold" fill="#000" font-family="Liberation Serif, serif">10<tspan font-size="5.6" dy="-2.9">3</tspan></text>
<line x1="464.40000000000003" y1="181.0824" x2="468.3" y2="181.0824" stroke="#111" stroke-width="1.3" />
<text x="457.3" y="183.6824" font-size="6.3" text-anchor="end" font-weight="bold" fill="#000" font-family="Liberation Serif, serif">0</text>
<line x1="464.40000000000003" y1="205.82580000000002" x2="468.3" y2="205.82580000000002" stroke="#111" stroke-width="1.3" />
<text x="460.7" y="208.4258" font-size="6.3" text-anchor="end" font-weight="bold" fill="#000" font-family="Liberation Serif, serif">‑10<tspan font-size="5.6" dy="-2.9">3</tspan></text>
<line x1="466.3" y1="104.30718936331671" x2="468.3" y2="104.30718936331671" stroke="#333" stroke-width="0.8" />
<line x1="466.3" y1="97.93460165839957" x2="468.3" y2="97.93460165839957" stroke="#333" stroke-width="0.8" />
<line x1="466.3" y1="93.41317872663342" x2="468.3" y2="93.41317872663342" stroke="#333" stroke-width="0.8" />
<line x1="466.3" y1="89.9060906366833" x2="468.3" y2="89.9060906366833" stroke="#333" stroke-width="0.8" />
<line x1="466.3" y1="87.04059102171628" x2="468.3" y2="87.04059102171628" stroke="#333" stroke-width="0.8" />
<line x1="466.3" y1="84.61784561815927" x2="468.3" y2="84.61784561815927" stroke="#333" stroke-width="0.8" />
<line x1="466.3" y1="82.51916808995011" x2="468.3" y2="82.51916808995011" stroke="#333" stroke-width="0.8" />
<line x1="466.3" y1="80.66800331679914" x2="468.3" y2="80.66800331679914" stroke="#333" stroke-width="0.8" />
<line x1="466.3" y1="143.84918459771606" x2="468.3" y2="143.84918459771606" stroke="#333" stroke-width="0.8" />
<line x1="466.3" y1="136.6319082540599" x2="468.3" y2="136.6319082540599" stroke="#333" stroke-width="0.8" />
<line x1="466.3" y1="131.51116919543216" x2="468.3" y2="131.51116919543216" stroke="#333" stroke-width="0.8" />
<line x1="466.3" y1="127.53921540228393" x2="468.3" y2="127.53921540228393" stroke="#333" stroke-width="0.8" />
<line x1="466.3" y1="124.29389285177598" x2="468.3" y2="124.29389285177598" stroke="#333" stroke-width="0.8" />
<line x1="466.3" y1="121.55001173197567" x2="468.3" y2="121.55001173197567" stroke="#333" stroke-width="0.8" />
<line x1="466.3" y1="119.1731537931482" x2="468.3" y2="119.1731537931482" stroke="#333" stroke-width="0.8" />
<line x1="466.3" y1="117.07661650811984" x2="468.3" y2="117.07661650811984" stroke="#333" stroke-width="0.8" />
<line x1="466.3" y1="68.1180693633167" x2="468.3" y2="68.1180693633167" stroke="#333" stroke-width="0.8" />
<line x1="466.3" y1="159.2991" x2="468.3" y2="159.2991" stroke="#333" stroke-width="0.8" />
<line x1="466.3" y1="184.17532500000002" x2="468.3" y2="184.17532500000002" stroke="#333" stroke-width="0.8" />
<line x1="466.3" y1="162.411" x2="468.3" y2="162.411" stroke="#333" stroke-width="0.8" />
<line x1="466.3" y1="187.26825000000002" x2="468.3" y2="187.26825000000002" stroke="#333" stroke-width="0.8" />
<line x1="466.3" y1="165.5229" x2="468.3" y2="165.5229" stroke="#333" stroke-width="0.8" />
<line x1="466.3" y1="190.361175" x2="468.3" y2="190.361175" stroke="#333" stroke-width="0.8" />
<line x1="466.3" y1="168.63479999999998" x2="468.3" y2="168.63479999999998" stroke="#333" stroke-width="0.8" />
<line x1="466.3" y1="193.4541" x2="468.3" y2="193.4541" stroke="#333" stroke-width="0.8" />
<line x1="466.3" y1="171.7467" x2="468.3" y2="171.7467" stroke="#333" stroke-width="0.8" />
<line x1="466.3" y1="196.54702500000002" x2="468.3" y2="196.54702500000002" stroke="#333" stroke-width="0.8" />
<line x1="466.3" y1="174.85860000000002" x2="468.3" y2="174.85860000000002" stroke="#333" stroke-width="0.8" />
<line x1="466.3" y1="199.63995" x2="468.3" y2="199.63995" stroke="#333" stroke-width="0.8" />
<line x1="466.3" y1="177.97050000000002" x2="468.3" y2="177.97050000000002" stroke="#333" stroke-width="0.8" />
<line x1="466.3" y1="202.732875" x2="468.3" y2="202.732875" stroke="#333" stroke-width="0.8" />
<rect x="464.70" y="178.28" width="3.60" height="5.60" fill="#111" />
<line x1="477.63" y1="216.3" x2="477.63" y2="220.20000000000002" stroke="#111" stroke-width="1.3" />
<text x="476.03" y="228.9" font-size="6.3" text-anchor="start" font-weight="bold" fill="#000" font-family="Liberation Serif, serif">‑10<tspan font-size="5.6" dy="-2.9">3</tspan></text>
<line x1="503.754" y1="216.3" x2="503.754" y2="220.20000000000002" stroke="#111" stroke-width="1.3" />
<text x="505.154" y="228.9" font-size="6.3" text-anchor="start" font-weight="bold" fill="#000" font-family="Liberation Serif, serif">0</text>
<line x1="528.634" y1="216.3" x2="528.634" y2="220.20000000000002" stroke="#111" stroke-width="1.3" />
<text x="529.234" y="228.9" font-size="6.3" text-anchor="start" font-weight="bold" fill="#000" font-family="Liberation Serif, serif">10<tspan font-size="5.6" dy="-2.9">3</tspan></text>
<line x1="571.3965" y1="216.3" x2="571.3965" y2="220.20000000000002" stroke="#111" stroke-width="1.3" />
<text x="571.9965" y="228.9" font-size="6.3" text-anchor="start" font-weight="bold" fill="#000" font-family="Liberation Serif, serif">10<tspan font-size="5.6" dy="-2.9">4</tspan></text>
<line x1="608.7165" y1="216.3" x2="608.7165" y2="220.20000000000002" stroke="#111" stroke-width="1.3" />
<text x="609.3165" y="228.9" font-size="6.3" text-anchor="start" font-weight="bold" fill="#000" font-family="Liberation Serif, serif">10<tspan font-size="5.6" dy="-2.9">5</tspan></text>
<line x1="541.506795189581" y1="216.3" x2="541.506795189581" y2="218.3" stroke="#333" stroke-width="0.8" />
<line x1="549.0368976549496" y1="216.3" x2="549.0368976549496" y2="218.3" stroke="#333" stroke-width="0.8" />
<line x1="554.379590379162" y1="216.3" x2="554.379590379162" y2="218.3" stroke="#333" stroke-width="0.8" />
<line x1="558.523704810419" y1="216.3" x2="558.523704810419" y2="218.3" stroke="#333" stroke-width="0.8" />
<line x1="561.9096928445306" y1="216.3" x2="561.9096928445306" y2="218.3" stroke="#333" stroke-width="0.8" />
<line x1="564.7725049361096" y1="216.3" x2="564.7725049361096" y2="218.3" stroke="#333" stroke-width="0.8" />
<line x1="567.252385568743" y1="216.3" x2="567.252385568743" y2="218.3" stroke="#333" stroke-width="0.8" />
<line x1="569.4397953098991" y1="216.3" x2="569.4397953098991" y2="218.3" stroke="#333" stroke-width="0.8" />
<line x1="582.6309394381798" y1="216.3" x2="582.6309394381798" y2="218.3" stroke="#333" stroke-width="0.8" />
<line x1="589.2026652261378" y1="216.3" x2="589.2026652261378" y2="218.3" stroke="#333" stroke-width="0.8" />
<line x1="593.8653788763595" y1="216.3" x2="593.8653788763595" y2="218.3" stroke="#333" stroke-width="0.8" />
<line x1="597.4820605618202" y1="216.3" x2="597.4820605618202" y2="218.3" stroke="#333" stroke-width="0.8" />
<line x1="600.4371046643175" y1="216.3" x2="600.4371046643175" y2="218.3" stroke="#333" stroke-width="0.8" />
<line x1="602.935558853332" y1="216.3" x2="602.935558853332" y2="218.3" stroke="#333" stroke-width="0.8" />
<line x1="605.0998183145393" y1="216.3" x2="605.0998183145393" y2="218.3" stroke="#333" stroke-width="0.8" />
<line x1="607.0088304522756" y1="216.3" x2="607.0088304522756" y2="218.3" stroke="#333" stroke-width="0.8" />
<line x1="619.9509394381797" y1="216.3" x2="619.9509394381797" y2="218.3" stroke="#333" stroke-width="0.8" />
<line x1="480.8955" y1="216.3" x2="480.8955" y2="218.3" stroke="#333" stroke-width="0.8" />
<line x1="506.864" y1="216.3" x2="506.864" y2="218.3" stroke="#333" stroke-width="0.8" />
<line x1="484.161" y1="216.3" x2="484.161" y2="218.3" stroke="#333" stroke-width="0.8" />
<line x1="509.974" y1="216.3" x2="509.974" y2="218.3" stroke="#333" stroke-width="0.8" />
<line x1="487.42650000000003" y1="216.3" x2="487.42650000000003" y2="218.3" stroke="#333" stroke-width="0.8" />
<line x1="513.0840000000001" y1="216.3" x2="513.0840000000001" y2="218.3" stroke="#333" stroke-width="0.8" />
<line x1="490.692" y1="216.3" x2="490.692" y2="218.3" stroke="#333" stroke-width="0.8" />
<line x1="516.194" y1="216.3" x2="516.194" y2="218.3" stroke="#333" stroke-width="0.8" />
<line x1="493.9575" y1="216.3" x2="493.9575" y2="218.3" stroke="#333" stroke-width="0.8" />
<line x1="519.304" y1="216.3" x2="519.304" y2="218.3" stroke="#333" stroke-width="0.8" />
<line x1="497.223" y1="216.3" x2="497.223" y2="218.3" stroke="#333" stroke-width="0.8" />
<line x1="522.414" y1="216.3" x2="522.414" y2="218.3" stroke="#333" stroke-width="0.8" />
<line x1="500.4885" y1="216.3" x2="500.4885" y2="218.3" stroke="#333" stroke-width="0.8" />
<line x1="525.524" y1="216.3" x2="525.524" y2="218.3" stroke="#333" stroke-width="0.8" />
<rect x="500.25" y="216.30" width="6.50" height="3.20" fill="#111" />
<line x1="69.7" y1="155" x2="69.7" y2="70" stroke="#000" stroke-width="2.3" />
<path d="M69.7,63.1 L65.3,71.6 L74.1,71.6 Z" fill="#000"/>
<line x1="170" y1="239.3" x2="620" y2="239.3" stroke="#000" stroke-width="2.4" />
<path d="M627.5,239.3 L618,235 L618,243.6 Z" fill="#000"/>
<text x="75.3" y="207.6" font-size="15.4" text-anchor="start" font-weight="normal" fill="#000" transform="rotate(-90 75.3 207.6)">CCR7</text>
<text x="98.6" y="247.5" font-size="15.2" text-anchor="start" font-weight="normal" fill="#000" >CD45RA</text>
<text x="108.3" y="81.2" font-size="16.4" text-anchor="start" font-weight="bold" fill="#1446ff" >CM</text>
<text x="255.3" y="81.2" font-size="16.4" text-anchor="end" font-weight="bold" fill="#1446ff" >Naive</text>
<text x="108.3" y="205.2" font-size="16.4" text-anchor="start" font-weight="bold" fill="#1446ff" >EM</text>
<text x="257.0" y="205.2" font-size="16.4" text-anchor="end" font-weight="bold" fill="#1446ff" >EMRA</text>
<text x="106.2" y="101.0" font-size="15.6" text-anchor="start" font-weight="normal" fill="#000" >28.0</text>
<text x="249.8" y="101.0" font-size="15.6" text-anchor="end" font-weight="normal" fill="#000" >41.7</text>
<text x="105.3" y="188.2" font-size="15.6" text-anchor="start" font-weight="normal" fill="#000" >24.6</text>
<text x="245.8" y="188.2" font-size="15.6" text-anchor="end" font-weight="normal" fill="#000" >5.7</text>
<text x="296.8" y="83.8" font-size="15.6" text-anchor="start" font-weight="normal" fill="#000" >15.3</text>
<text x="434.5" y="132.7" font-size="15.6" text-anchor="end" font-weight="normal" fill="#000" >37.1</text>
<text x="296.8" y="205.8" font-size="15.6" text-anchor="start" font-weight="normal" fill="#000" >21.6</text>
<text x="434.5" y="205.8" font-size="15.6" text-anchor="end" font-weight="normal" fill="#000" >26.0</text>
<text x="486.3" y="83.8" font-size="15.6" text-anchor="start" font-weight="normal" fill="#000" >9.4</text>
<text x="601.8" y="83.8" font-size="15.6" text-anchor="end" font-weight="normal" fill="#000" >2.8</text>
<text x="483.0" y="205.8" font-size="15.6" text-anchor="start" font-weight="normal" fill="#000" >60.2</text>
<text x="605.8" y="205.8" font-size="15.6" text-anchor="end" font-weight="normal" fill="#000" >27.6</text>
<rect x="77.10" y="310.90" width="34.80" height="24.62" fill="#000000" />
<rect x="77.10" y="335.51" width="34.80" height="37.41" fill="#374845" />
<rect x="77.10" y="372.93" width="34.80" height="58.42" fill="#22cf88" />
<rect x="77.10" y="431.35" width="34.80" height="43.65" fill="#040ff9" />
<rect x="139.30" y="310.90" width="34.00" height="11.16" fill="#000000" />
<rect x="139.30" y="322.06" width="34.00" height="17.89" fill="#374845" />
<rect x="139.30" y="339.95" width="34.00" height="91.90" fill="#22cf88" />
<rect x="139.30" y="431.84" width="34.00" height="43.16" fill="#040ff9" />
<line x1="111.9" y1="310.9" x2="139.3" y2="310.9" stroke="#42605b" stroke-width="1.0" />
<line x1="111.9" y1="335.515" x2="139.3" y2="322.0588" stroke="#42605b" stroke-width="1.0" />
<line x1="111.9" y1="372.9298" x2="139.3" y2="339.9457" stroke="#42605b" stroke-width="1.0" />
<line x1="111.9" y1="431.3494" x2="139.3" y2="431.8417" stroke="#42605b" stroke-width="1.0" />
<line x1="63.3" y1="310.2" x2="63.3" y2="476.2" stroke="#000" stroke-width="2.3" />
<line x1="59.5" y1="475.0" x2="187.5" y2="475.0" stroke="#000" stroke-width="2.5" />
<line x1="59.4" y1="475.0" x2="63.3" y2="475.0" stroke="#000" stroke-width="2.0" />
<text x="50.6" y="479.6" font-size="13" text-anchor="end" font-weight="normal" fill="#000" >0</text>
<line x1="59.4" y1="442.18" x2="63.3" y2="442.18" stroke="#000" stroke-width="2.0" />
<text x="50.6" y="446.78000000000003" font-size="13" text-anchor="end" font-weight="normal" fill="#000" >20</text>
<line x1="59.4" y1="409.36" x2="63.3" y2="409.36" stroke="#000" stroke-width="2.0" />
<text x="50.6" y="413.96000000000004" font-size="13" text-anchor="end" font-weight="normal" fill="#000" >40</text>
<line x1="59.4" y1="376.53999999999996" x2="63.3" y2="376.53999999999996" stroke="#000" stroke-width="2.0" />
<text x="50.6" y="381.14" font-size="13" text-anchor="end" font-weight="normal" fill="#000" >60</text>
<line x1="59.4" y1="343.72" x2="63.3" y2="343.72" stroke="#000" stroke-width="2.0" />
<text x="50.6" y="348.32000000000005" font-size="13" text-anchor="end" font-weight="normal" fill="#000" >80</text>
<line x1="59.4" y1="310.9" x2="63.3" y2="310.9" stroke="#000" stroke-width="2.0" />
<text x="50.6" y="315.5" font-size="13" text-anchor="end" font-weight="normal" fill="#000" >100</text>
<rect x="189.00" y="310.60" width="27.00" height="16.00" fill="#000000" />
<text x="219.5" y="323.40000000000003" font-size="13" text-anchor="start" font-weight="normal" fill="#000" >naive</text>
<rect x="189.00" y="331.75" width="27.00" height="16.00" fill="#374845" />
<text x="219.5" y="344.55" font-size="13" text-anchor="start" font-weight="normal" fill="#000" >CM</text>
<rect x="189.00" y="352.90" width="27.00" height="16.00" fill="#22cf88" />
<text x="219.5" y="365.70000000000005" font-size="13" text-anchor="start" font-weight="normal" fill="#000" >EM</text>
<rect x="189.00" y="374.05" width="27.00" height="16.00" fill="#040ff9" />
<text x="219.5" y="386.85" font-size="13" text-anchor="start" font-weight="normal" fill="#000" >EMRA</text>
<text x="92.4" y="496.3" font-size="13.4" text-anchor="middle" font-weight="normal" fill="#000" >MHC−/−</text>
<text x="156.3" y="496.3" font-size="13.4" text-anchor="middle" font-weight="normal" fill="#000" >MHC+/+</text>
<path d="M124.70,315.50L124.70,323.50M121.24,317.50L128.16,321.50M128.16,317.50L121.24,321.50" stroke="#111" stroke-width="1.15" fill="none"/>
<path d="M124.70,347.00L124.70,355.00M121.24,349.00L128.16,353.00M128.16,349.00L121.24,353.00" stroke="#111" stroke-width="1.15" fill="none"/>
<path d="M119.40,395.80L119.40,403.80M115.94,397.80L122.86,401.80M122.86,397.80L115.94,401.80" stroke="#111" stroke-width="1.15" fill="none"/>
<path d="M130.40,395.80L130.40,403.80M126.94,397.80L133.86,401.80M133.86,397.80L126.94,401.80" stroke="#111" stroke-width="1.15" fill="none"/>
<text x="125.4" y="456.5" font-size="13" text-anchor="middle" font-weight="normal" fill="#000" >ns</text>
<text x="22.4" y="438" font-size="13.45" text-anchor="start" font-weight="normal" fill="#000" transform="rotate(-90 22.4 438)">%  of total cells</text>
<rect x="340.60" y="310.90" width="34.80" height="61.21" fill="#000000" />
<rect x="340.60" y="372.11" width="34.80" height="24.62" fill="#374845" />
<rect x="340.60" y="396.72" width="34.80" height="35.77" fill="#22cf88" />
<rect x="340.60" y="432.50" width="34.80" height="42.50" fill="#040ff9" />
<rect x="402.80" y="310.90" width="34.00" height="4.76" fill="#000000" />
<rect x="402.80" y="315.66" width="34.00" height="15.10" fill="#374845" />
<rect x="402.80" y="330.76" width="34.00" height="99.28" fill="#22cf88" />
<rect x="402.80" y="430.04" width="34.00" height="44.96" fill="#040ff9" />
<line x1="375.4" y1="310.9" x2="402.8" y2="310.9" stroke="#42605b" stroke-width="1.0" />
<line x1="375.4" y1="372.10929999999996" x2="402.8" y2="315.6589" stroke="#42605b" stroke-width="1.0" />
<line x1="375.4" y1="396.72429999999997" x2="402.8" y2="330.7561" stroke="#42605b" stroke-width="1.0" />
<line x1="375.4" y1="432.4981" x2="402.8" y2="430.0366" stroke="#42605b" stroke-width="1.0" />
<line x1="326.8" y1="310.2" x2="326.8" y2="476.2" stroke="#000" stroke-width="2.3" />
<line x1="323.0" y1="475.0" x2="451.0" y2="475.0" stroke="#000" stroke-width="2.5" />
<line x1="322.9" y1="475.0" x2="326.8" y2="475.0" stroke="#000" stroke-width="2.0" />
<text x="314.1" y="479.6" font-size="13" text-anchor="end" font-weight="normal" fill="#000" >0</text>
<line x1="322.9" y1="442.18" x2="326.8" y2="442.18" stroke="#000" stroke-width="2.0" />
<text x="314.1" y="446.78000000000003" font-size="13" text-anchor="end" font-weight="normal" fill="#000" >20</text>
<line x1="322.9" y1="409.36" x2="326.8" y2="409.36" stroke="#000" stroke-width="2.0" />
<text x="314.1" y="413.96000000000004" font-size="13" text-anchor="end" font-weight="normal" fill="#000" >40</text>
<line x1="322.9" y1="376.53999999999996" x2="326.8" y2="376.53999999999996" stroke="#000" stroke-width="2.0" />
<text x="314.1" y="381.14" font-size="13" text-anchor="end" font-weight="normal" fill="#000" >60</text>
<line x1="322.9" y1="343.72" x2="326.8" y2="343.72" stroke="#000" stroke-width="2.0" />
<text x="314.1" y="348.32000000000005" font-size="13" text-anchor="end" font-weight="normal" fill="#000" >80</text>
<line x1="322.9" y1="310.9" x2="326.8" y2="310.9" stroke="#000" stroke-width="2.0" />
<text x="314.1" y="315.5" font-size="13" text-anchor="end" font-weight="normal" fill="#000" >100</text>
<rect x="452.50" y="310.60" width="27.00" height="16.00" fill="#000000" />
<text x="483.0" y="323.40000000000003" font-size="13" text-anchor="start" font-weight="normal" fill="#000" >naive</text>
<rect x="452.50" y="331.75" width="27.00" height="16.00" fill="#374845" />
<text x="483.0" y="344.55" font-size="13" text-anchor="start" font-weight="normal" fill="#000" >CM</text>
<rect x="452.50" y="352.90" width="27.00" height="16.00" fill="#22cf88" />
<text x="483.0" y="365.70000000000005" font-size="13" text-anchor="start" font-weight="normal" fill="#000" >EM</text>
<rect x="452.50" y="374.05" width="27.00" height="16.00" fill="#040ff9" />
<text x="483.0" y="386.85" font-size="13" text-anchor="start" font-weight="normal" fill="#000" >EMRA</text>
<text x="355.9" y="496.3" font-size="13.4" text-anchor="middle" font-weight="normal" fill="#000" ></text>
<text x="419.8" y="496.3" font-size="13.4" text-anchor="middle" font-weight="normal" fill="#000" ></text>
<path d="M388.50,315.50L388.50,323.50M385.04,317.50L391.96,321.50M391.96,317.50L385.04,321.50" stroke="#111" stroke-width="1.15" fill="none"/>
<text x="388.5" y="354.5" font-size="13" text-anchor="middle" font-weight="normal" fill="#000" >ns</text>
<path d="M383.00,395.60L383.00,403.60M379.54,397.60L386.46,401.60M386.46,397.60L379.54,401.60" stroke="#111" stroke-width="1.15" fill="none"/>
<path d="M394.00,395.60L394.00,403.60M390.54,397.60L397.46,401.60M397.46,397.60L390.54,401.60" stroke="#111" stroke-width="1.15" fill="none"/>
<text x="388.5" y="456.5" font-size="13" text-anchor="middle" font-weight="normal" fill="#000" >ns</text>
<text x="285.9" y="438" font-size="13.45" text-anchor="start" font-weight="normal" fill="#000" transform="rotate(-90 285.9 438)">% of total cells</text>
<text x="357.9" y="496.3" font-size="13" text-anchor="middle" font-weight="normal" fill="#000" >High</text>
<text x="420" y="496.3" font-size="13" text-anchor="middle" font-weight="normal" fill="#000" >Low</text>
<line x1="321.3" y1="504.5" x2="450.5" y2="504.5" stroke="#000" stroke-width="2" />
<text x="391" y="525.5" font-size="13.5" text-anchor="middle" font-weight="normal" fill="#000" >CellTrace intensity</text>
<rect x="597.90" y="310.90" width="34.80" height="14.93" fill="#000000" />
<rect x="597.90" y="325.83" width="34.80" height="37.91" fill="#374845" />
<rect x="597.90" y="363.74" width="34.80" height="63.34" fill="#22cf88" />
<rect x="597.90" y="427.08" width="34.80" height="47.92" fill="#040ff9" />
<rect x="660.10" y="310.90" width="34.00" height="5.42" fill="#000000" />
<rect x="660.10" y="316.32" width="34.00" height="16.25" fill="#374845" />
<rect x="660.10" y="332.56" width="34.00" height="96.16" fill="#22cf88" />
<rect x="660.10" y="428.72" width="34.00" height="46.28" fill="#040ff9" />
<line x1="632.6999999999999" y1="310.9" x2="660.0999999999999" y2="310.9" stroke="#42605b" stroke-width="1.0" />
<line x1="632.6999999999999" y1="325.8331" x2="660.0999999999999" y2="316.3153" stroke="#42605b" stroke-width="1.0" />
<line x1="632.6999999999999" y1="363.7402" x2="660.0999999999999" y2="332.5612" stroke="#42605b" stroke-width="1.0" />
<line x1="632.6999999999999" y1="427.0828" x2="660.0999999999999" y2="428.7238" stroke="#42605b" stroke-width="1.0" />
<line x1="584.0999999999999" y1="310.2" x2="584.0999999999999" y2="476.2" stroke="#000" stroke-width="2.3" />
<line x1="580.3" y1="475.0" x2="708.3" y2="475.0" stroke="#000" stroke-width="2.5" />
<line x1="580.1999999999999" y1="475.0" x2="584.0999999999999" y2="475.0" stroke="#000" stroke-width="2.0" />
<text x="571.4" y="479.6" font-size="13" text-anchor="end" font-weight="normal" fill="#000" >0</text>
<line x1="580.1999999999999" y1="442.18" x2="584.0999999999999" y2="442.18" stroke="#000" stroke-width="2.0" />
<text x="571.4" y="446.78000000000003" font-size="13" text-anchor="end" font-weight="normal" fill="#000" >20</text>
<line x1="580.1999999999999" y1="409.36" x2="584.0999999999999" y2="409.36" stroke="#000" stroke-width="2.0" />
<text x="571.4" y="413.96000000000004" font-size="13" text-anchor="end" font-weight="normal" fill="#000" >40</text>
<line x1="580.1999999999999" y1="376.53999999999996" x2="584.0999999999999" y2="376.53999999999996" stroke="#000" stroke-width="2.0" />
<text x="571.4" y="381.14" font-size="13" text-anchor="end" font-weight="normal" fill="#000" >60</text>
<line x1="580.1999999999999" y1="343.72" x2="584.0999999999999" y2="343.72" stroke="#000" stroke-width="2.0" />
<text x="571.4" y="348.32000000000005" font-size="13" text-anchor="end" font-weight="normal" fill="#000" >80</text>
<line x1="580.1999999999999" y1="310.9" x2="584.0999999999999" y2="310.9" stroke="#000" stroke-width="2.0" />
<text x="571.4" y="315.5" font-size="13" text-anchor="end" font-weight="normal" fill="#000" >100</text>
<rect x="708.00" y="310.60" width="27.00" height="16.00" fill="#000000" />
<text x="738.5" y="323.40000000000003" font-size="13" text-anchor="start" font-weight="normal" fill="#000" >naive</text>
<rect x="708.00" y="331.75" width="27.00" height="16.00" fill="#374845" />
<text x="738.5" y="344.55" font-size="13" text-anchor="start" font-weight="normal" fill="#000" >CM</text>
<rect x="708.00" y="352.90" width="27.00" height="16.00" fill="#22cf88" />
<text x="738.5" y="365.70000000000005" font-size="13" text-anchor="start" font-weight="normal" fill="#000" >EM</text>
<rect x="708.00" y="374.05" width="27.00" height="16.00" fill="#040ff9" />
<text x="738.5" y="386.85" font-size="13" text-anchor="start" font-weight="normal" fill="#000" >EMRA</text>
<text x="613.1999999999999" y="496.3" font-size="13.4" text-anchor="middle" font-weight="normal" fill="#000" >MHC−/−</text>
<text x="677.0999999999999" y="496.3" font-size="13.4" text-anchor="middle" font-weight="normal" fill="#000" >MHC+/+</text>
<path d="M646.10,316.00L646.10,324.00M642.64,318.00L649.56,322.00M649.56,318.00L642.64,322.00" stroke="#111" stroke-width="1.15" fill="none"/>
<path d="M646.10,347.20L646.10,355.20M642.64,349.20L649.56,353.20M649.56,349.20L642.64,353.20" stroke="#111" stroke-width="1.15" fill="none"/>
<path d="M640.80,395.80L640.80,403.80M637.34,397.80L644.26,401.80M644.26,397.80L637.34,401.80" stroke="#111" stroke-width="1.15" fill="none"/>
<path d="M651.80,395.80L651.80,403.80M648.34,397.80L655.26,401.80M655.26,397.80L648.34,401.80" stroke="#111" stroke-width="1.15" fill="none"/>
<text x="646.5999999999999" y="456.5" font-size="13" text-anchor="middle" font-weight="normal" fill="#000" >ns</text>
<text x="541.6999999999999" y="438" font-size="13.45" text-anchor="start" font-weight="normal" fill="#000" transform="rotate(-90 541.7 438)">%  of total cells</text>
<text x="99.9" y="584.7" font-size="14.3" text-anchor="start" font-weight="normal" fill="#000" >CD4<tspan font-size="10.5" dy="-3.6">+</tspan><tspan dy="3.6"> T-cell in MHC</tspan><tspan font-size="10.5" dy="-3.6">+/+</tspan><tspan dy="3.6"> mice</tspan></text>
<line x1="74.2" y1="605.6000000000001" x2="74.2" y2="756.2" stroke="#000" stroke-width="1.8" />
<line x1="67.8" y1="755.2" x2="297.5" y2="755.2" stroke="#000" stroke-width="1.8" />
<line x1="67.8" y1="755.2" x2="74.2" y2="755.2" stroke="#000" stroke-width="1.6" />
<text x="66.8" y="759.5" font-size="12.2" text-anchor="end" font-weight="normal" fill="#000" >0</text>
<line x1="67.8" y1="718.0" x2="74.2" y2="718.0" stroke="#000" stroke-width="1.6" />
<text x="66.8" y="722.3" font-size="12.2" text-anchor="end" font-weight="normal" fill="#000" >10</text>
<line x1="67.8" y1="680.8000000000001" x2="74.2" y2="680.8000000000001" stroke="#000" stroke-width="1.6" />
<text x="66.8" y="685.1" font-size="12.2" text-anchor="end" font-weight="normal" fill="#000" >20</text>
<line x1="67.8" y1="643.6" x2="74.2" y2="643.6" stroke="#000" stroke-width="1.6" />
<text x="66.8" y="647.9" font-size="12.2" text-anchor="end" font-weight="normal" fill="#000" >30</text>
<line x1="67.8" y1="606.4000000000001" x2="74.2" y2="606.4000000000001" stroke="#000" stroke-width="1.6" />
<text x="66.8" y="610.7" font-size="12.2" text-anchor="end" font-weight="normal" fill="#000" >40</text>
<line x1="108.1" y1="755.2" x2="108.1" y2="761.5" stroke="#000" stroke-width="1.6" />
<line x1="160.3" y1="755.2" x2="160.3" y2="761.5" stroke="#000" stroke-width="1.6" />
<line x1="212.0" y1="755.2" x2="212.0" y2="761.5" stroke="#000" stroke-width="1.6" />
<line x1="263.3" y1="755.2" x2="263.3" y2="761.5" stroke="#000" stroke-width="1.6" />
<text x="108.1" y="773.2" font-size="12.2" text-anchor="middle" font-weight="normal" fill="#000" >naive</text>
<text x="160.3" y="773.2" font-size="12.2" text-anchor="middle" font-weight="normal" fill="#000" >CM</text>
<text x="212.0" y="773.2" font-size="12.2" text-anchor="middle" font-weight="normal" fill="#000" >EM</text>
<text x="263.3" y="773.2" font-size="12.2" text-anchor="middle" font-weight="normal" fill="#000" >EMRA</text>
<text x="43.5" y="733.4000000000001" font-size="12.25" text-anchor="start" font-weight="normal" fill="#000" transform="rotate(-90 43.5 733.4000000000001)">BODIPY MFI (x100)</text>
<rect x="92.30" y="748.88" width="31.6" height="6.32" fill="#fff" stroke="#000" stroke-width="2.6"/>
<rect x="144.50" y="736.23" width="31.6" height="18.97" fill="#fff" stroke="#000" stroke-width="2.6"/>
<rect x="196.20" y="697.17" width="31.6" height="58.03" fill="#fff" stroke="#000" stroke-width="2.6"/>
<rect x="247.50" y="668.90" width="31.6" height="86.30" fill="#fff" stroke="#000" stroke-width="2.6"/>
<circle cx="97.50" cy="750.00" r="5.3" fill="#111"/>
<circle cx="104.00" cy="746.50" r="5.3" fill="#111"/>
<circle cx="110.00" cy="749.00" r="5.3" fill="#111"/>
<circle cx="116.00" cy="748.00" r="5.3" fill="#111"/>
<circle cx="120.50" cy="750.00" r="5.3" fill="#111"/>
<circle cx="147.50" cy="731.80" r="5.3" fill="#1c2a28"/>
<circle cx="155.50" cy="730.00" r="5.3" fill="#1c2a28"/>
<circle cx="163.80" cy="735.00" r="5.3" fill="#1c2a28"/>
<circle cx="172.00" cy="731.80" r="5.3" fill="#1c2a28"/>
<circle cx="155.50" cy="744.50" r="5.3" fill="#1c2a28"/>
<circle cx="211.30" cy="677.50" r="5.3" fill="#23b27a"/>
<circle cx="223.30" cy="693.80" r="5.3" fill="#23b27a"/>
<circle cx="211.30" cy="698.80" r="5.3" fill="#23b27a"/>
<circle cx="200.00" cy="706.30" r="5.3" fill="#23b27a"/>
<circle cx="223.30" cy="705.50" r="5.3" fill="#23b27a"/>
<circle cx="263.00" cy="645.50" r="5.3" fill="#0a14f0"/>
<circle cx="259.30" cy="670.00" r="5.3" fill="#0a14f0"/>
<circle cx="266.80" cy="673.30" r="5.3" fill="#0a14f0"/>
<circle cx="275.00" cy="672.50" r="5.3" fill="#0a14f0"/>
<circle cx="251.30" cy="677.50" r="5.3" fill="#0a14f0"/>
<line x1="212.0" y1="691.96" x2="212.0" y2="701.26" stroke="#23b27a" stroke-width="1.8" />
<line x1="203.0" y1="691.96" x2="221.0" y2="691.96" stroke="#23b27a" stroke-width="1.8" />
<line x1="203.0" y1="701.26" x2="221.0" y2="701.26" stroke="#23b27a" stroke-width="1.8" />
<line x1="263.3" y1="662.572" x2="263.3" y2="674.104" stroke="#0a14f0" stroke-width="1.8" />
<line x1="254.3" y1="662.572" x2="272.3" y2="662.572" stroke="#0a14f0" stroke-width="1.8" />
<line x1="254.3" y1="674.104" x2="272.3" y2="674.104" stroke="#0a14f0" stroke-width="1.8" />
<path d="M108.10,684.30V678.30H160.30V684.30" stroke="#000" stroke-width="2.4" fill="none"/>
<path d="M129.82,663.40L129.82,672.20M126.01,665.60L133.63,670.00M133.63,665.60L126.01,670.00" stroke="#000" stroke-width="2.5" fill="none"/>
<path d="M138.58,663.40L138.58,672.20M134.77,665.60L142.39,670.00M142.39,665.60L134.77,670.00" stroke="#000" stroke-width="2.5" fill="none"/>
<path d="M160.30,654.30V648.30H212.00V654.30" stroke="#000" stroke-width="2.4" fill="none"/>
<path d="M177.39,633.40L177.39,642.20M173.58,635.60L181.20,640.00M181.20,635.60L173.58,640.00" stroke="#000" stroke-width="2.5" fill="none"/>
<path d="M186.15,633.40L186.15,642.20M182.34,635.60L189.96,640.00M189.96,635.60L182.34,640.00" stroke="#000" stroke-width="2.5" fill="none"/>
<path d="M194.91,633.40L194.91,642.20M191.10,635.60L198.72,640.00M198.72,635.60L191.10,640.00" stroke="#000" stroke-width="2.5" fill="none"/>
<path d="M212.00,622.80V616.80H263.30V622.80" stroke="#000" stroke-width="2.4" fill="none"/>
<path d="M233.27,601.90L233.27,610.70M229.46,604.10L237.08,608.50M237.08,604.10L229.46,608.50" stroke="#000" stroke-width="2.5" fill="none"/>
<path d="M242.03,601.90L242.03,610.70M238.22,604.10L245.84,608.50M245.84,604.10L238.22,608.50" stroke="#000" stroke-width="2.5" fill="none"/>
<text x="482.9" y="584.3" font-size="14.3" text-anchor="start" font-weight="normal" fill="#000" >CD8<tspan font-size="10.5" dy="-3.6">+</tspan><tspan dy="3.6"> T-cell in MHC</tspan><tspan font-size="10.5" dy="-3.6">+/+</tspan><tspan dy="3.6"> mice</tspan></text>
<line x1="457.2" y1="605.2" x2="457.2" y2="755.8" stroke="#000" stroke-width="1.8" />
<line x1="450.8" y1="754.8" x2="680.5" y2="754.8" stroke="#000" stroke-width="1.8" />
<line x1="450.8" y1="754.8" x2="457.2" y2="754.8" stroke="#000" stroke-width="1.6" />
<text x="449.8" y="759.0999999999999" font-size="12.2" text-anchor="end" font-weight="normal" fill="#000" >0</text>
<line x1="450.8" y1="717.5999999999999" x2="457.2" y2="717.5999999999999" stroke="#000" stroke-width="1.6" />
<text x="449.8" y="721.8999999999999" font-size="12.2" text-anchor="end" font-weight="normal" fill="#000" >10</text>
<line x1="450.8" y1="680.4" x2="457.2" y2="680.4" stroke="#000" stroke-width="1.6" />
<text x="449.8" y="684.6999999999999" font-size="12.2" text-anchor="end" font-weight="normal" fill="#000" >20</text>
<line x1="450.8" y1="643.1999999999999" x2="457.2" y2="643.1999999999999" stroke="#000" stroke-width="1.6" />
<text x="449.8" y="647.4999999999999" font-size="12.2" text-anchor="end" font-weight="normal" fill="#000" >30</text>
<line x1="450.8" y1="606.0" x2="457.2" y2="606.0" stroke="#000" stroke-width="1.6" />
<text x="449.8" y="610.3" font-size="12.2" text-anchor="end" font-weight="normal" fill="#000" >40</text>
<line x1="491.1" y1="754.8" x2="491.1" y2="761.0999999999999" stroke="#000" stroke-width="1.6" />
<line x1="543.3" y1="754.8" x2="543.3" y2="761.0999999999999" stroke="#000" stroke-width="1.6" />
<line x1="595.0" y1="754.8" x2="595.0" y2="761.0999999999999" stroke="#000" stroke-width="1.6" />
<line x1="646.3" y1="754.8" x2="646.3" y2="761.0999999999999" stroke="#000" stroke-width="1.6" />
<text x="491.1" y="772.8" font-size="12.2" text-anchor="middle" font-weight="normal" fill="#000" >naive</text>
<text x="543.3" y="772.8" font-size="12.2" text-anchor="middle" font-weight="normal" fill="#000" >CM</text>
<text x="595.0" y="772.8" font-size="12.2" text-anchor="middle" font-weight="normal" fill="#000" >EM</text>
<text x="646.3" y="772.8" font-size="12.2" text-anchor="middle" font-weight="normal" fill="#000" >EMRA</text>
<text x="426.5" y="733.0" font-size="12.25" text-anchor="start" font-weight="normal" fill="#000" transform="rotate(-90 426.5 733.0)">BODIPY MFI (x100)</text>
<rect x="475.30" y="745.87" width="31.6" height="8.93" fill="#fff" stroke="#000" stroke-width="2.6"/>
<rect x="527.50" y="716.48" width="31.6" height="38.32" fill="#fff" stroke="#000" stroke-width="2.6"/>
<rect x="579.20" y="686.72" width="31.6" height="68.08" fill="#fff" stroke="#000" stroke-width="2.6"/>
<rect x="630.50" y="672.96" width="31.6" height="81.84" fill="#fff" stroke="#000" stroke-width="2.6"/>
<circle cx="480.00" cy="736.30" r="5.3" fill="#111"/>
<circle cx="480.00" cy="747.50" r="5.3" fill="#111"/>
<circle cx="487.50" cy="746.30" r="5.3" fill="#111"/>
<circle cx="495.50" cy="747.50" r="5.3" fill="#111"/>
<circle cx="503.80" cy="747.50" r="5.3" fill="#111"/>
<circle cx="543.00" cy="696.80" r="5.3" fill="#1c2a28"/>
<circle cx="543.00" cy="707.00" r="5.3" fill="#1c2a28"/>
<circle cx="543.00" cy="720.00" r="5.3" fill="#1c2a28"/>
<circle cx="531.30" cy="728.80" r="5.3" fill="#1c2a28"/>
<circle cx="554.50" cy="728.80" r="5.3" fill="#1c2a28"/>
<circle cx="582.50" cy="668.00" r="5.3" fill="#23b27a"/>
<circle cx="606.30" cy="675.00" r="5.3" fill="#23b27a"/>
<circle cx="582.50" cy="682.00" r="5.3" fill="#23b27a"/>
<circle cx="606.30" cy="696.30" r="5.3" fill="#23b27a"/>
<circle cx="582.50" cy="703.80" r="5.3" fill="#23b27a"/>
<circle cx="645.80" cy="651.30" r="5.3" fill="#0a14f0"/>
<circle cx="633.80" cy="668.00" r="5.3" fill="#0a14f0"/>
<circle cx="657.50" cy="663.80" r="5.3" fill="#0a14f0"/>
<circle cx="646.30" cy="681.30" r="5.3" fill="#0a14f0"/>
<circle cx="646.30" cy="695.50" r="5.3" fill="#0a14f0"/>
<line x1="543.3" y1="709.788" x2="543.3" y2="721.692" stroke="#1c2a28" stroke-width="1.8" />
<line x1="534.3" y1="709.788" x2="552.3" y2="709.788" stroke="#1c2a28" stroke-width="1.8" />
<line x1="534.3" y1="721.692" x2="552.3" y2="721.692" stroke="#1c2a28" stroke-width="1.8" />
<line x1="595.0" y1="678.1679999999999" x2="595.0" y2="693.42" stroke="#23b27a" stroke-width="1.8" />
<line x1="586.0" y1="678.1679999999999" x2="604.0" y2="678.1679999999999" stroke="#23b27a" stroke-width="1.8" />
<line x1="586.0" y1="693.42" x2="604.0" y2="693.42" stroke="#23b27a" stroke-width="1.8" />
<line x1="646.3" y1="664.0319999999999" x2="646.3" y2="679.656" stroke="#0a14f0" stroke-width="1.8" />
<line x1="637.3" y1="664.0319999999999" x2="655.3" y2="664.0319999999999" stroke="#0a14f0" stroke-width="1.8" />
<line x1="637.3" y1="679.656" x2="655.3" y2="679.656" stroke="#0a14f0" stroke-width="1.8" />
<path d="M491.10,684.00V678.00H543.30V684.00" stroke="#000" stroke-width="2.4" fill="none"/>
<path d="M512.82,663.10L512.82,671.90M509.01,665.30L516.63,669.70M516.63,665.30L509.01,669.70" stroke="#000" stroke-width="2.5" fill="none"/>
<path d="M521.58,663.10L521.58,671.90M517.77,665.30L525.39,669.70M525.39,665.30L517.77,669.70" stroke="#000" stroke-width="2.5" fill="none"/>
<path d="M543.30,653.50V647.50H595.00V653.50" stroke="#000" stroke-width="2.4" fill="none"/>
<path d="M569.15,632.60L569.15,641.40M565.34,634.80L572.96,639.20M572.96,634.80L565.34,639.20" stroke="#000" stroke-width="2.5" fill="none"/>
<path d="M595.00,623.00V617.00H646.30V623.00" stroke="#000" stroke-width="2.4" fill="none"/>
<path d="M620.65,602.10L620.65,610.90M616.84,604.30L624.46,608.70M624.46,604.30L616.84,608.70" stroke="#000" stroke-width="2.5" fill="none"/>
<text x="99.9" y="813.0" font-size="14.3" text-anchor="start" font-weight="normal" fill="#000" >CD4<tspan font-size="10.5" dy="-3.6">+</tspan><tspan dy="3.6"> T-cell in MHC</tspan><tspan font-size="10.5" dy="-3.6">−/−</tspan><tspan dy="3.6"> mice</tspan></text>
<line x1="74.2" y1="832.6000000000001" x2="74.2" y2="983.2" stroke="#000" stroke-width="1.8" />
<line x1="67.8" y1="982.2" x2="297.5" y2="982.2" stroke="#000" stroke-width="1.8" />
<line x1="67.8" y1="982.2" x2="74.2" y2="982.2" stroke="#000" stroke-width="1.6" />
<text x="66.8" y="986.5" font-size="12.2" text-anchor="end" font-weight="normal" fill="#000" >0</text>
<line x1="67.8" y1="945.0" x2="74.2" y2="945.0" stroke="#000" stroke-width="1.6" />
<text x="66.8" y="949.3" font-size="12.2" text-anchor="end" font-weight="normal" fill="#000" >10</text>
<line x1="67.8" y1="907.8000000000001" x2="74.2" y2="907.8000000000001" stroke="#000" stroke-width="1.6" />
<text x="66.8" y="912.1" font-size="12.2" text-anchor="end" font-weight="normal" fill="#000" >20</text>
<line x1="67.8" y1="870.6" x2="74.2" y2="870.6" stroke="#000" stroke-width="1.6" />
<text x="66.8" y="874.9" font-size="12.2" text-anchor="end" font-weight="normal" fill="#000" >30</text>
<line x1="67.8" y1="833.4000000000001" x2="74.2" y2="833.4000000000001" stroke="#000" stroke-width="1.6" />
<text x="66.8" y="837.7" font-size="12.2" text-anchor="end" font-weight="normal" fill="#000" >40</text>
<line x1="108.1" y1="982.2" x2="108.1" y2="988.5" stroke="#000" stroke-width="1.6" />
<line x1="160.3" y1="982.2" x2="160.3" y2="988.5" stroke="#000" stroke-width="1.6" />
<line x1="212.0" y1="982.2" x2="212.0" y2="988.5" stroke="#000" stroke-width="1.6" />
<line x1="263.3" y1="982.2" x2="263.3" y2="988.5" stroke="#000" stroke-width="1.6" />
<text x="108.1" y="1000.2" font-size="12.2" text-anchor="middle" font-weight="normal" fill="#000" >naive</text>
<text x="160.3" y="1000.2" font-size="12.2" text-anchor="middle" font-weight="normal" fill="#000" >CM</text>
<text x="212.0" y="1000.2" font-size="12.2" text-anchor="middle" font-weight="normal" fill="#000" >EM</text>
<text x="263.3" y="1000.2" font-size="12.2" text-anchor="middle" font-weight="normal" fill="#000" >EMRA</text>
<text x="43.5" y="960.4000000000001" font-size="12.25" text-anchor="start" font-weight="normal" fill="#000" transform="rotate(-90 43.5 960.4000000000001)">BODIPY MFI (x100)</text>
<rect x="92.30" y="972.90" width="31.6" height="9.30" fill="#fff" stroke="#000" stroke-width="2.6"/>
<rect x="144.50" y="947.60" width="31.6" height="34.60" fill="#fff" stroke="#000" stroke-width="2.6"/>
<rect x="196.20" y="945.00" width="31.6" height="37.20" fill="#fff" stroke="#000" stroke-width="2.6"/>
<rect x="247.50" y="946.12" width="31.6" height="36.08" fill="#fff" stroke="#000" stroke-width="2.6"/>
<circle cx="96.30" cy="976.30" r="5.3" fill="#111"/>
<circle cx="103.80" cy="967.00" r="5.3" fill="#111"/>
<circle cx="111.30" cy="975.00" r="5.3" fill="#111"/>
<circle cx="120.00" cy="972.00" r="5.3" fill="#111"/>
<circle cx="147.00" cy="946.30" r="5.3" fill="#1c2a28"/>
<circle cx="159.50" cy="960.00" r="5.3" fill="#1c2a28"/>
<circle cx="172.00" cy="937.00" r="5.3" fill="#1c2a28"/>
<circle cx="172.00" cy="950.00" r="5.3" fill="#1c2a28"/>
<circle cx="211.30" cy="923.00" r="5.3" fill="#23b27a"/>
<circle cx="211.30" cy="935.00" r="5.3" fill="#23b27a"/>
<circle cx="211.30" cy="948.00" r="5.3" fill="#23b27a"/>
<circle cx="199.50" cy="958.00" r="5.3" fill="#23b27a"/>
<circle cx="223.00" cy="956.30" r="5.3" fill="#23b27a"/>
<circle cx="263.00" cy="926.30" r="5.3" fill="#0a14f0"/>
<circle cx="263.00" cy="947.50" r="5.3" fill="#0a14f0"/>
<circle cx="251.30" cy="955.50" r="5.3" fill="#0a14f0"/>
<circle cx="275.00" cy="953.00" r="5.3" fill="#0a14f0"/>
<line x1="160.3" y1="943.884" x2="160.3" y2="952.812" stroke="#1c2a28" stroke-width="1.8" />
<line x1="151.3" y1="943.884" x2="169.3" y2="943.884" stroke="#1c2a28" stroke-width="1.8" />
<line x1="151.3" y1="952.812" x2="169.3" y2="952.812" stroke="#1c2a28" stroke-width="1.8" />
<line x1="212.0" y1="937.932" x2="212.0" y2="949.836" stroke="#23b27a" stroke-width="1.8" />
<line x1="203.0" y1="937.932" x2="221.0" y2="937.932" stroke="#23b27a" stroke-width="1.8" />
<line x1="203.0" y1="949.836" x2="221.0" y2="949.836" stroke="#23b27a" stroke-width="1.8" />
<line x1="263.3" y1="939.4200000000001" x2="263.3" y2="952.0680000000001" stroke="#0a14f0" stroke-width="1.8" />
<line x1="254.3" y1="939.4200000000001" x2="272.3" y2="939.4200000000001" stroke="#0a14f0" stroke-width="1.8" />
<line x1="254.3" y1="952.0680000000001" x2="272.3" y2="952.0680000000001" stroke="#0a14f0" stroke-width="1.8" />
<path d="M108.10,904.00V898.00H160.30V904.00" stroke="#000" stroke-width="2.4" fill="none"/>
<path d="M129.82,883.10L129.82,891.90M126.01,885.30L133.63,889.70M133.63,885.30L126.01,889.70" stroke="#000" stroke-width="2.5" fill="none"/>
<path d="M138.58,883.10L138.58,891.90M134.77,885.30L142.39,889.70M142.39,885.30L134.77,889.70" stroke="#000" stroke-width="2.5" fill="none"/>
<path d="M160.30,879.80V873.80H263.30V879.80" stroke="#000" stroke-width="2.4" fill="none"/>
<text x="211.8" y="865.5999999999999" font-size="12" text-anchor="middle" font-weight="normal" fill="#000" >ns</text>
<text x="482.4" y="813.1" font-size="14.3" text-anchor="start" font-weight="normal" fill="#000" >CD8<tspan font-size="10.5" dy="-3.6">+</tspan><tspan dy="3.6"> T-cell in MHC</tspan><tspan font-size="10.5" dy="-3.6">−/−</tspan><tspan dy="3.6"> mice</tspan></text>
<line x1="456.7" y1="833.0" x2="456.7" y2="983.6" stroke="#000" stroke-width="1.8" />
<line x1="450.3" y1="982.6" x2="680.0" y2="982.6" stroke="#000" stroke-width="1.8" />
<line x1="450.3" y1="982.6" x2="456.7" y2="982.6" stroke="#000" stroke-width="1.6" />
<text x="449.3" y="986.9" font-size="12.2" text-anchor="end" font-weight="normal" fill="#000" >0</text>
<line x1="450.3" y1="945.4" x2="456.7" y2="945.4" stroke="#000" stroke-width="1.6" />
<text x="449.3" y="949.6999999999999" font-size="12.2" text-anchor="end" font-weight="normal" fill="#000" >10</text>
<line x1="450.3" y1="908.2" x2="456.7" y2="908.2" stroke="#000" stroke-width="1.6" />
<text x="449.3" y="912.5" font-size="12.2" text-anchor="end" font-weight="normal" fill="#000" >20</text>
<line x1="450.3" y1="871.0" x2="456.7" y2="871.0" stroke="#000" stroke-width="1.6" />
<text x="449.3" y="875.3" font-size="12.2" text-anchor="end" font-weight="normal" fill="#000" >30</text>
<line x1="450.3" y1="833.8" x2="456.7" y2="833.8" stroke="#000" stroke-width="1.6" />
<text x="449.3" y="838.0999999999999" font-size="12.2" text-anchor="end" font-weight="normal" fill="#000" >40</text>
<line x1="490.6" y1="982.6" x2="490.6" y2="988.9" stroke="#000" stroke-width="1.6" />
<line x1="542.8" y1="982.6" x2="542.8" y2="988.9" stroke="#000" stroke-width="1.6" />
<line x1="594.5" y1="982.6" x2="594.5" y2="988.9" stroke="#000" stroke-width="1.6" />
<line x1="645.8" y1="982.6" x2="645.8" y2="988.9" stroke="#000" stroke-width="1.6" />
<text x="490.6" y="1000.6" font-size="12.2" text-anchor="middle" font-weight="normal" fill="#000" >naive</text>
<text x="542.8" y="1000.6" font-size="12.2" text-anchor="middle" font-weight="normal" fill="#000" >CM</text>
<text x="594.5" y="1000.6" font-size="12.2" text-anchor="middle" font-weight="normal" fill="#000" >EM</text>
<text x="645.8" y="1000.6" font-size="12.2" text-anchor="middle" font-weight="normal" fill="#000" >EMRA</text>
<text x="426.0" y="960.8000000000001" font-size="12.25" text-anchor="start" font-weight="normal" fill="#000" transform="rotate(-90 426.0 960.8000000000001)">BODIPY MFI (x100)</text>
<rect x="474.80" y="975.16" width="31.6" height="7.44" fill="#fff" stroke="#000" stroke-width="2.6"/>
<rect x="527.00" y="932.38" width="31.6" height="50.22" fill="#fff" stroke="#000" stroke-width="2.6"/>
<rect x="578.70" y="943.91" width="31.6" height="38.69" fill="#fff" stroke="#000" stroke-width="2.6"/>
<rect x="630.00" y="950.61" width="31.6" height="31.99" fill="#fff" stroke="#000" stroke-width="2.6"/>
<circle cx="478.00" cy="977.00" r="5.3" fill="#111"/>
<circle cx="486.30" cy="973.00" r="5.3" fill="#111"/>
<circle cx="494.50" cy="976.30" r="5.3" fill="#111"/>
<circle cx="502.50" cy="975.80" r="5.3" fill="#111"/>
<circle cx="530.00" cy="920.50" r="5.3" fill="#1c2a28"/>
<circle cx="542.00" cy="925.00" r="5.3" fill="#1c2a28"/>
<circle cx="554.30" cy="923.80" r="5.3" fill="#1c2a28"/>
<circle cx="542.00" cy="957.00" r="5.3" fill="#1c2a28"/>
<circle cx="582.00" cy="931.30" r="5.3" fill="#23b27a"/>
<circle cx="606.30" cy="923.80" r="5.3" fill="#23b27a"/>
<circle cx="582.00" cy="946.30" r="5.3" fill="#23b27a"/>
<circle cx="606.30" cy="953.80" r="5.3" fill="#23b27a"/>
<circle cx="582.00" cy="962.00" r="5.3" fill="#23b27a"/>
<circle cx="646.30" cy="934.50" r="5.3" fill="#0a14f0"/>
<circle cx="646.30" cy="950.00" r="5.3" fill="#0a14f0"/>
<circle cx="634.00" cy="957.50" r="5.3" fill="#0a14f0"/>
<circle cx="658.30" cy="957.50" r="5.3" fill="#0a14f0"/>
<line x1="542.8" y1="923.8240000000001" x2="542.8" y2="940.5640000000001" stroke="#1c2a28" stroke-width="1.8" />
<line x1="533.8" y1="923.8240000000001" x2="551.8" y2="923.8240000000001" stroke="#1c2a28" stroke-width="1.8" />
<line x1="533.8" y1="940.5640000000001" x2="551.8" y2="940.5640000000001" stroke="#1c2a28" stroke-width="1.8" />
<line x1="594.5" y1="936.1" x2="594.5" y2="949.864" stroke="#23b27a" stroke-width="1.8" />
<line x1="585.5" y1="936.1" x2="603.5" y2="936.1" stroke="#23b27a" stroke-width="1.8" />
<line x1="585.5" y1="949.864" x2="603.5" y2="949.864" stroke="#23b27a" stroke-width="1.8" />
<line x1="645.8" y1="944.6560000000001" x2="645.8" y2="954.7" stroke="#0a14f0" stroke-width="1.8" />
<line x1="636.8" y1="944.6560000000001" x2="654.8" y2="944.6560000000001" stroke="#0a14f0" stroke-width="1.8" />
<line x1="636.8" y1="954.7" x2="654.8" y2="954.7" stroke="#0a14f0" stroke-width="1.8" />
<path d="M490.60,904.30V898.30H542.80V904.30" stroke="#000" stroke-width="2.4" fill="none"/>
<path d="M512.32,883.40L512.32,892.20M508.51,885.60L516.13,890.00M516.13,885.60L508.51,890.00" stroke="#000" stroke-width="2.5" fill="none"/>
<path d="M521.08,883.40L521.08,892.20M517.27,885.60L524.89,890.00M524.89,885.60L517.27,890.00" stroke="#000" stroke-width="2.5" fill="none"/>
<path d="M542.80,880.00V874.00H645.80V880.00" stroke="#000" stroke-width="2.4" fill="none"/>
<text x="594.3" y="865.8" font-size="12" text-anchor="middle" font-weight="normal" fill="#000" >ns</text>
</svg></body></html>
